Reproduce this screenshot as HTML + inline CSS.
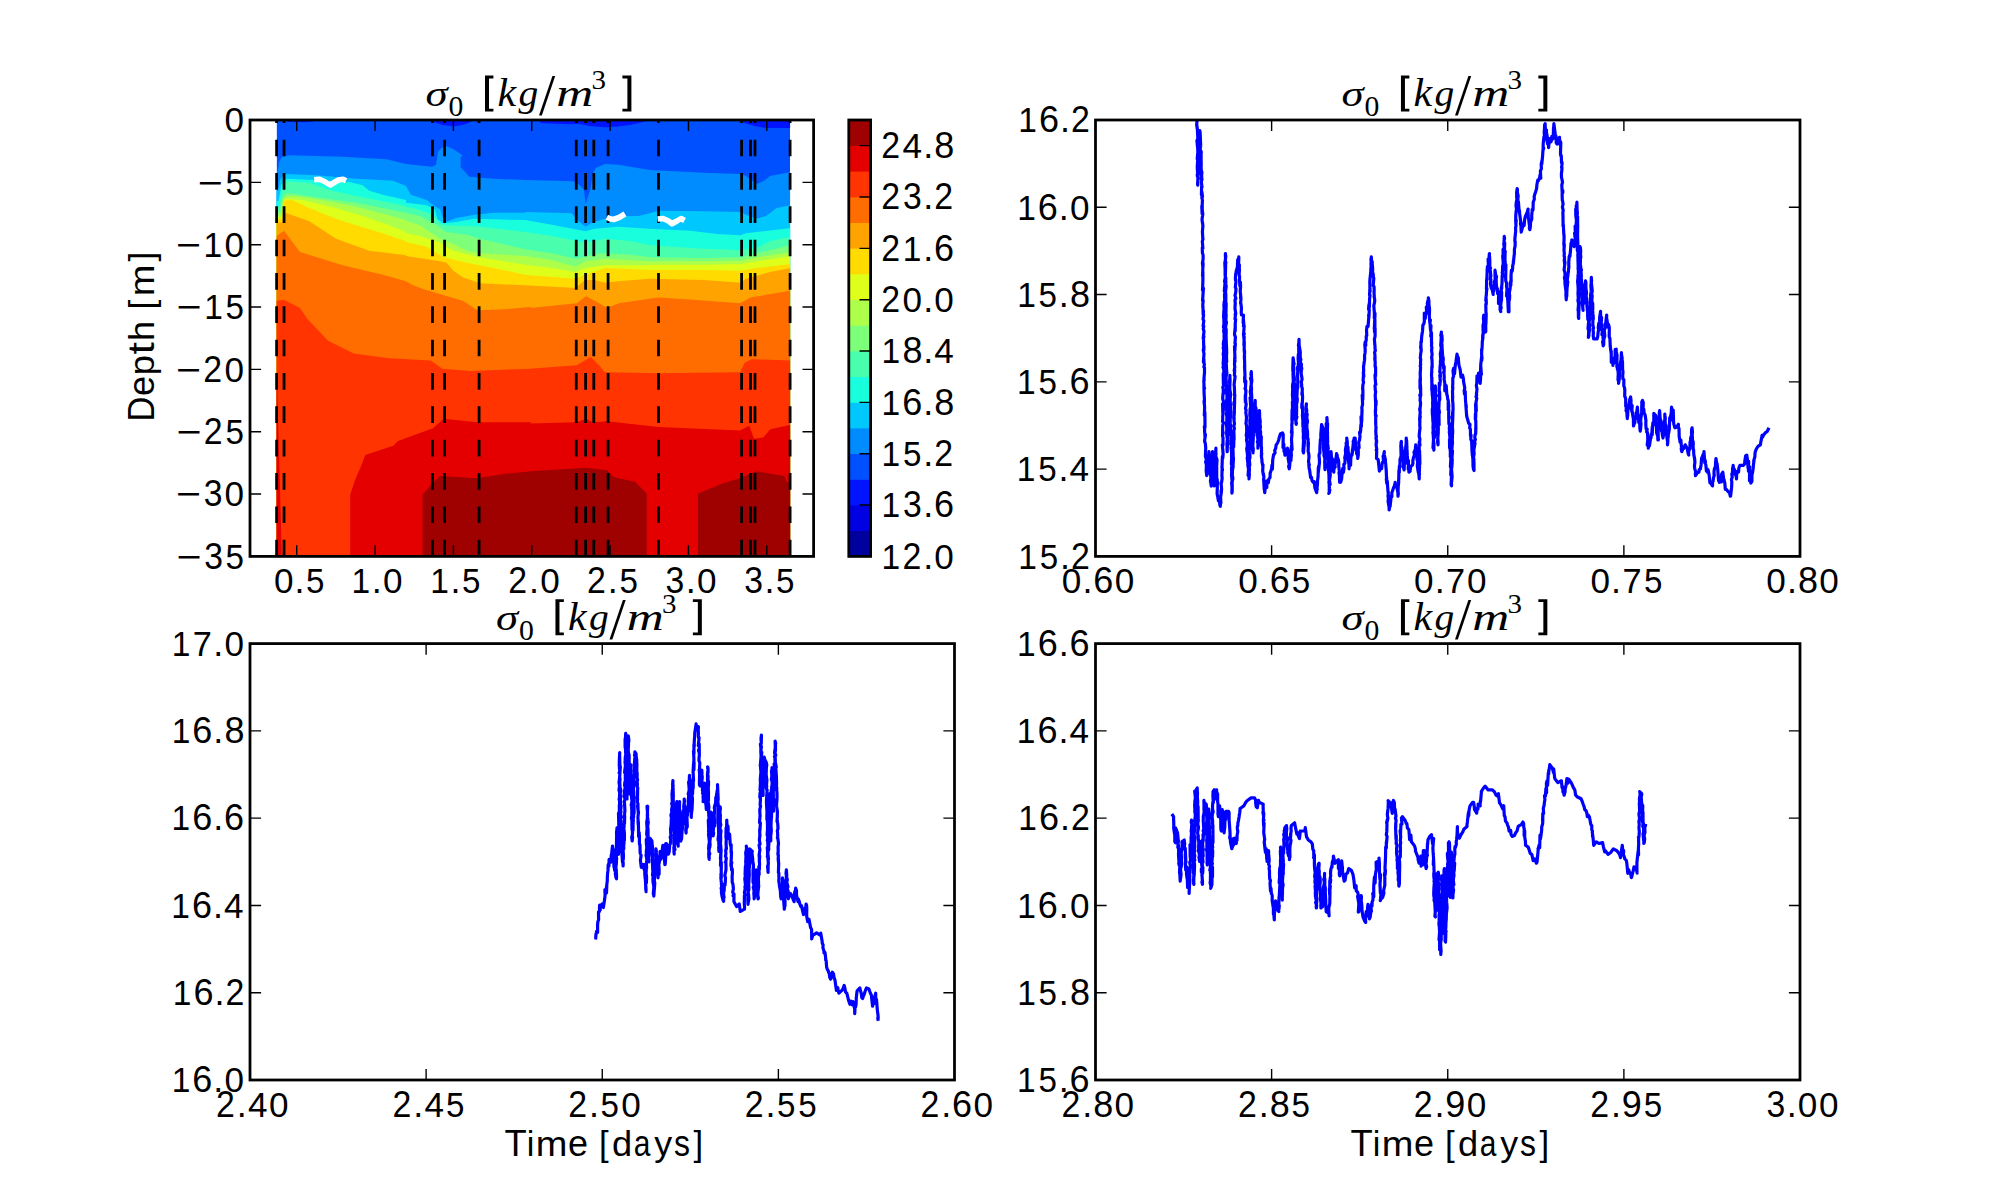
<!DOCTYPE html>
<html><head><meta charset="utf-8"><style>
html,body{margin:0;padding:0;background:#fff;width:2000px;height:1200px;overflow:hidden}
svg{display:block}
text{font-family:"Liberation Sans",sans-serif;font-size:36.0px;fill:#000}
</style></head><body>
<svg width="2000" height="1200" viewBox="0 0 2000 1200">
<rect width="2000" height="1200" fill="#fff"/>
<clipPath id="cc"><rect x="276.6" y="120.0" width="513.5" height="436.4"/></clipPath>
<g clip-path="url(#cc)">
<rect x="276.6" y="120.0" width="513.5" height="436.4" fill="#0050ff"/>
<path d="M274.6 172.7 277.3 172.7 279.3 161.3 282.0 156.7 289.3 155.3 342.7 156.7 386.7 159.3 406.0 164.0 406.0 164.0 432.0 166.7 436.0 164.7 438.0 152.0 441.3 148.0 446.0 146.0 453.3 149.3 462.7 155.3 460.7 157.3 460.7 167.3 469.3 176.7 493.3 178.7 524.9 180.0 525.0 180.0 573.0 181.3 578.3 184.0 583.7 189.3 585.7 204.0 590.3 189.3 593.0 173.3 595.7 168.0 605.0 164.0 618.3 164.7 649.9 170.0 650.0 170.0 703.3 172.7 740.7 174.0 746.0 176.0 756.7 184.0 763.3 181.3 770.0 176.0 791.3 172.0 L792.1 561.4 L274.6 561.4Z" fill="#008cff"/>
<path d="M274.6 192.0 278.0 190.7 280.0 180.0 282.7 175.7 285.3 174.0 316.0 175.3 356.0 178.7 393.3 180.7 406.0 186.0 406.0 186.0 410.7 194.7 426.7 200.0 433.3 205.3 440.0 209.3 442.7 217.3 446.0 222.0 456.0 218.0 474.7 214.7 493.3 212.7 524.9 212.7 525.0 212.0 571.7 213.3 578.3 221.3 585.7 226.7 591.7 222.7 605.0 218.7 618.3 216.0 638.3 216.0 649.9 213.3 650.0 213.3 658.0 210.7 703.3 211.3 740.7 212.0 746.0 214.7 756.7 218.7 766.0 216.0 776.7 208.0 791.3 205.3 L792.1 561.4 L274.6 561.4Z" fill="#00c8ff"/>
<path d="M274.6 202.0 278.7 200.7 281.3 185.3 284.0 180.0 288.0 178.7 312.0 180.0 349.3 182.0 362.7 185.3 369.3 190.7 382.7 194.7 406.0 200.0 406.0 202.7 426.7 205.3 434.7 209.3 437.3 218.7 442.7 223.3 456.0 222.0 474.7 218.7 493.3 219.3 524.9 220.0 525.0 220.0 551.7 224.7 585.7 231.3 594.3 228.7 618.3 226.7 649.9 228.7 650.0 228.7 690.0 230.7 716.7 234.0 740.7 235.3 746.0 233.3 756.7 232.0 791.3 228.0 L792.1 561.4 L274.6 561.4Z" fill="#19ffde"/>
<path d="M274.6 208.0 279.3 206.7 282.0 190.7 285.3 182.7 288.0 181.3 309.3 182.7 329.3 190.0 356.0 196.0 382.7 201.3 406.0 206.0 406.0 206.7 413.3 208.0 433.3 214.7 440.0 224.0 446.7 225.3 480.0 226.7 524.9 232.0 525.0 232.0 551.7 236.0 585.0 242.7 605.0 238.7 631.7 241.3 649.9 245.3 650.0 245.3 703.3 248.7 740.7 250.0 756.7 248.0 770.0 241.3 791.3 236.7 L792.1 561.4 L274.6 561.4Z" fill="#49ffad"/>
<path d="M274.6 212.0 280.0 210.7 282.7 197.3 285.3 194.0 289.3 193.3 316.0 197.3 356.0 202.7 382.7 208.0 406.0 212.7 406.0 212.7 420.0 216.0 433.3 222.7 446.7 232.0 466.7 234.7 480.0 238.7 524.9 249.3 525.0 249.3 551.7 253.3 575.7 258.7 599.7 253.3 631.7 254.7 649.9 257.3 650.0 257.3 703.3 258.0 740.7 257.3 756.7 253.3 791.3 245.3 L792.1 561.4 L274.6 561.4Z" fill="#7dff7a"/>
<path d="M274.6 214.9 280.7 214.0 283.3 198.7 286.7 196.3 296.0 196.0 329.3 201.3 356.0 206.7 389.3 215.3 406.0 220.0 406.0 220.7 420.0 225.3 440.0 238.7 453.3 244.0 466.7 250.7 480.0 253.3 524.9 256.0 525.0 256.0 551.7 260.0 575.7 266.7 585.0 261.3 605.0 258.7 649.9 261.3 650.0 261.3 703.3 261.3 740.7 260.7 756.7 257.3 791.3 252.0 L792.1 561.4 L274.6 561.4Z" fill="#adff49"/>
<path d="M274.6 217.1 281.3 216.7 284.0 199.3 289.3 198.7 302.7 200.0 336.0 208.0 362.7 216.0 389.3 225.3 406.0 232.0 406.0 233.3 420.0 236.0 440.0 242.7 453.3 250.7 480.0 257.3 524.9 264.7 525.0 264.7 551.7 268.0 575.7 272.0 585.0 268.0 605.0 265.3 649.9 265.3 650.0 264.7 703.3 264.7 740.7 264.0 756.7 261.3 791.3 256.0 L792.1 561.4 L274.6 561.4Z" fill="#deff19"/>
<path d="M274.6 218.9 282.0 218.7 284.0 200.7 292.0 200.0 309.3 208.0 336.0 218.7 356.0 225.3 382.7 233.3 406.0 241.3 406.0 242.0 426.7 246.7 444.0 257.3 466.7 262.7 493.3 268.0 524.9 274.7 525.0 274.7 575.7 278.7 585.0 274.7 605.0 268.0 649.9 270.0 650.0 270.0 703.3 270.0 740.7 270.7 756.7 268.0 791.3 264.0 L792.1 561.4 L274.6 561.4Z" fill="#ffdb00"/>
<path d="M274.6 222.0 282.0 222.7 285.3 212.7 309.3 221.3 336.0 238.7 369.3 250.7 406.0 255.3 406.0 256.0 440.0 261.3 446.7 262.7 453.3 270.7 462.7 277.3 480.0 283.3 524.9 285.3 525.0 285.3 575.7 288.0 585.0 280.0 594.3 280.0 605.0 282.7 618.3 281.3 649.9 278.7 650.0 278.7 703.3 280.0 740.7 282.7 746.0 278.7 770.0 272.0 791.3 268.0 L792.1 561.4 L274.6 561.4Z" fill="#ffa300"/>
<path d="M274.6 236.0 276.7 236.0 284.0 230.7 300.0 252.0 342.7 265.3 382.7 274.7 406.0 281.3 412.0 284.7 423.7 289.3 463.3 301.0 477.3 310.3 505.3 309.2 531.9 306.8 530.0 308.0 576.7 303.3 586.0 296.3 595.3 301.0 607.0 308.0 618.7 303.3 658.3 297.5 693.3 299.8 740.0 303.3 750.5 297.5 791.3 290.5 L792.1 561.4 L274.6 561.4Z" fill="#ff6c00"/>
<path d="M274.6 301.0 276.7 301.0 283.7 299.8 300.0 308.0 307.0 318.5 328.0 340.7 353.7 353.5 388.7 358.2 430.7 360.5 442.3 368.7 470.3 371.0 531.9 368.7 530.0 368.7 576.7 365.2 590.7 357.0 600.0 366.3 604.7 372.2 658.3 373.3 740.0 372.2 744.7 362.8 751.7 359.3 791.3 360.5 L792.1 561.4 L274.6 561.4Z" fill="#ff3400"/>
<path d="M274.6 384.0 277.2 384.0 281.8 556.4 350.2 558.4 350.2 494.7 354.8 480.7 361.8 464.3 365.3 455.0 393.3 445.7 398.0 441.0 433.0 428.2 443.5 418.8 477.3 422.3 531.9 422.3 530.0 423.5 576.7 422.3 586.0 418.8 593.0 422.3 607.0 421.2 658.3 427.0 740.0 430.5 749.3 425.8 754.0 438.7 763.3 437.5 770.3 429.3 791.3 424.7 L792.1 561.4 L274.6 561.4Z" fill="#e40000"/>
<path d="M274.6 556.4 422.5 558.4 422.5 494.7 430.7 485.3 440.0 476.0 477.3 478.3 505.3 473.7 531.9 471.3 530.0 471.3 586.0 467.8 607.0 470.2 614.0 477.2 635.0 481.8 646.7 493.5 646.7 558.4 698.0 558.4 698.0 493.5 723.7 483.0 740.0 478.3 756.3 471.3 784.3 476.0 786.7 481.8 791.3 481.8 L792.1 561.4 L274.6 561.4Z" fill="#9f0000"/>
<path d="M282 120 Q292 123 300 122 Q310 123 318 120Z M432 120 L436 123 Q446 127 456 126 Q466 125 472 121 L472 120Z M540 120 L540 123 Q560 124.5 579 124 Q595 128 611 127 Q630 126 647 121 L647 120Z M738 120 Q752 127 768 128 L792 128 L792 120Z" fill="#0014ff"/>
</g>
<path d="M276.6 556.4V120M284.05 556.4V120M432.5 556.4V120M444.6 556.4V120M479.1 556.4V120M576.25 556.4V120M585.6 556.4V120M593.8 556.4V120M608.1 556.4V120M658.5 556.4V120M741.6 556.4V120M750.5 556.4V120M755 556.4V120M790.1 556.4V120" stroke="#000" stroke-width="2.78" stroke-dasharray="16.67 16.67" fill="none"/>
<path d="M314.2 179.8 319.5 179.3 324.5 181.5 330.0 185.0 335.0 182.0 338.5 180.0 343.0 179.3 346.0 180.8" stroke="#fff" stroke-width="5.6" fill="none" stroke-linejoin="round" stroke-linecap="butt"/>
<path d="M606.8 217.3 610.0 218.8 613.5 219.5 619.0 217.5 625.0 214.0" stroke="#fff" stroke-width="5.6" fill="none" stroke-linejoin="round" stroke-linecap="butt"/>
<path d="M657.6 219.0 663.0 218.5 668.5 221.0 672.0 223.8 677.0 221.0 681.0 218.5 684.5 220.5" stroke="#fff" stroke-width="5.6" fill="none" stroke-linejoin="round" stroke-linecap="butt"/>
<path d="M296.7 556.4v-11.1M296.7 120v11.1M375.05 556.4v-11.1M375.05 120v11.1M453.4 556.4v-11.1M453.4 120v11.1M531.75 556.4v-11.1M531.75 120v11.1M610.1 556.4v-11.1M610.1 120v11.1M688.45 556.4v-11.1M688.45 120v11.1M766.8 556.4v-11.1M766.8 120v11.1" stroke="#000" stroke-width="1.39" fill="none"/>
<text transform="translate(273.88 593.2) scale(0.976 1)">0</text>
<text x="294.53" y="593.2">.</text>
<text transform="translate(306.10 593.2) scale(0.921 1)">5</text>
<text transform="translate(351.43 593.2) scale(0.932 1)">1</text>
<text x="371.80" y="593.2">.</text>
<text transform="translate(382.95 593.2) scale(0.976 1)">0</text>
<text transform="translate(430.13 593.2) scale(0.932 1)">1</text>
<text x="450.50" y="593.2">.</text>
<text transform="translate(462.07 593.2) scale(0.921 1)">5</text>
<text transform="translate(508.37 593.2) scale(0.941 1)">2</text>
<text x="529.11" y="593.2">.</text>
<text transform="translate(540.26 593.2) scale(0.976 1)">0</text>
<text transform="translate(587.07 593.2) scale(0.941 1)">2</text>
<text x="607.81" y="593.2">.</text>
<text transform="translate(619.38 593.2) scale(0.921 1)">5</text>
<text transform="translate(665.54 593.2) scale(0.937 1)">3</text>
<text x="685.76" y="593.2">.</text>
<text transform="translate(696.91 593.2) scale(0.976 1)">0</text>
<text transform="translate(744.24 593.2) scale(0.937 1)">3</text>
<text x="764.46" y="593.2">.</text>
<text transform="translate(776.03 593.2) scale(0.921 1)">5</text>
<path d="M250 120h11.1M813.6 120h-11.1M250 182.34h11.1M813.6 182.34h-11.1M250 244.69h11.1M813.6 244.69h-11.1M250 307.03h11.1M813.6 307.03h-11.1M250 369.37h11.1M813.6 369.37h-11.1M250 431.71h11.1M813.6 431.71h-11.1M250 494.06h11.1M813.6 494.06h-11.1M250 556.4h11.1M813.6 556.4h-11.1" stroke="#000" stroke-width="1.39" fill="none"/>
<text transform="translate(224.43 132.3) scale(0.976 1)">0</text>
<text transform="translate(197.79 194.64) scale(1.193 1)">−</text>
<text transform="translate(225.55 194.64) scale(0.921 1)">5</text>
<text transform="translate(175.88 256.99) scale(1.193 1)">−</text>
<text transform="translate(203.50 256.99) scale(0.932 1)">1</text>
<text transform="translate(224.43 256.99) scale(0.976 1)">0</text>
<text transform="translate(176.58 319.33) scale(1.193 1)">−</text>
<text transform="translate(204.20 319.33) scale(0.932 1)">1</text>
<text transform="translate(225.55 319.33) scale(0.921 1)">5</text>
<text transform="translate(175.88 381.67) scale(1.193 1)">−</text>
<text transform="translate(203.14 381.67) scale(0.941 1)">2</text>
<text transform="translate(224.43 381.67) scale(0.976 1)">0</text>
<text transform="translate(176.58 444.01) scale(1.193 1)">−</text>
<text transform="translate(203.84 444.01) scale(0.941 1)">2</text>
<text transform="translate(225.55 444.01) scale(0.921 1)">5</text>
<text transform="translate(175.88 506.36) scale(1.193 1)">−</text>
<text transform="translate(203.65 506.36) scale(0.937 1)">3</text>
<text transform="translate(224.43 506.36) scale(0.976 1)">0</text>
<text transform="translate(176.58 568.7) scale(1.193 1)">−</text>
<text transform="translate(204.35 568.7) scale(0.937 1)">3</text>
<text transform="translate(225.55 568.7) scale(0.921 1)">5</text>
<rect x="250" y="120" width="563.6" height="436.4" fill="none" stroke="#000" stroke-width="2.78"/>
<rect x="848.8" y="530.43" width="21.8" height="26.27" fill="#00009f"/>
<rect x="848.8" y="504.76" width="21.8" height="26.27" fill="#0000e3"/>
<rect x="848.8" y="479.09" width="21.8" height="26.27" fill="#0014ff"/>
<rect x="848.8" y="453.42" width="21.8" height="26.27" fill="#0050ff"/>
<rect x="848.8" y="427.75" width="21.8" height="26.27" fill="#008cff"/>
<rect x="848.8" y="402.08" width="21.8" height="26.27" fill="#00c8ff"/>
<rect x="848.8" y="376.41" width="21.8" height="26.27" fill="#19ffde"/>
<rect x="848.8" y="350.74" width="21.8" height="26.27" fill="#49ffad"/>
<rect x="848.8" y="325.06" width="21.8" height="26.27" fill="#7dff7a"/>
<rect x="848.8" y="299.39" width="21.8" height="26.27" fill="#adff49"/>
<rect x="848.8" y="273.72" width="21.8" height="26.27" fill="#deff19"/>
<rect x="848.8" y="248.05" width="21.8" height="26.27" fill="#ffdb00"/>
<rect x="848.8" y="222.38" width="21.8" height="26.27" fill="#ffa300"/>
<rect x="848.8" y="196.71" width="21.8" height="26.27" fill="#ff6c00"/>
<rect x="848.8" y="171.04" width="21.8" height="26.27" fill="#ff3400"/>
<rect x="848.8" y="145.37" width="21.8" height="26.27" fill="#e40000"/>
<rect x="848.8" y="119.7" width="21.8" height="26.27" fill="#9f0000"/>
<path d="M870.6 505.06h-11.1M870.6 453.72h-11.1M870.6 402.38h-11.1M870.6 351.04h-11.1M870.6 299.69h-11.1M870.6 248.35h-11.1M870.6 197.01h-11.1M870.6 145.67h-11.1" stroke="#000" stroke-width="1.39" fill="none"/>
<text transform="translate(881.61 568.7) scale(0.932 1)">1</text>
<text transform="translate(902.45 568.7) scale(0.941 1)">2</text>
<text x="923.19" y="568.7">.</text>
<text transform="translate(934.34 568.7) scale(0.976 1)">0</text>
<text transform="translate(881.61 517.36) scale(0.932 1)">1</text>
<text transform="translate(902.96 517.36) scale(0.937 1)">3</text>
<text x="923.19" y="517.36">.</text>
<text x="933.99" y="517.36">6</text>
<text transform="translate(881.61 466.02) scale(0.932 1)">1</text>
<text transform="translate(902.95 466.02) scale(0.921 1)">5</text>
<text x="923.19" y="466.02">.</text>
<text transform="translate(934.25 466.02) scale(0.941 1)">2</text>
<text transform="translate(881.61 414.68) scale(0.932 1)">1</text>
<text x="902.19" y="414.68">6</text>
<text x="923.19" y="414.68">.</text>
<text x="934.23" y="414.68">8</text>
<text transform="translate(881.61 363.34) scale(0.932 1)">1</text>
<text x="902.43" y="363.34">8</text>
<text x="923.19" y="363.34">.</text>
<text transform="translate(934.33 363.34) scale(0.976 1)">4</text>
<text transform="translate(881.24 311.99) scale(0.941 1)">2</text>
<text transform="translate(902.53 311.99) scale(0.976 1)">0</text>
<text x="923.19" y="311.99">.</text>
<text transform="translate(934.34 311.99) scale(0.976 1)">0</text>
<text transform="translate(881.24 260.65) scale(0.941 1)">2</text>
<text transform="translate(902.81 260.65) scale(0.932 1)">1</text>
<text x="923.19" y="260.65">.</text>
<text x="933.99" y="260.65">6</text>
<text transform="translate(881.24 209.31) scale(0.941 1)">2</text>
<text transform="translate(902.96 209.31) scale(0.937 1)">3</text>
<text x="923.19" y="209.31">.</text>
<text transform="translate(934.25 209.31) scale(0.941 1)">2</text>
<text transform="translate(881.24 157.97) scale(0.941 1)">2</text>
<text transform="translate(902.53 157.97) scale(0.976 1)">4</text>
<text x="923.19" y="157.97">.</text>
<text x="934.23" y="157.97">8</text>
<rect x="848.8" y="120" width="21.8" height="436.4" fill="none" stroke="#000" stroke-width="2.78"/>
<path d="M1271.62 556.4v-11.1M1271.62 120v11.1M1447.75 556.4v-11.1M1447.75 120v11.1M1623.88 556.4v-11.1M1623.88 120v11.1" stroke="#000" stroke-width="1.39" fill="none"/>
<text transform="translate(1061.72 593.2) scale(0.976 1)">0</text>
<text x="1082.38" y="593.2">.</text>
<text x="1093.18" y="593.2">6</text>
<text transform="translate(1114.73 593.2) scale(0.976 1)">0</text>
<text transform="translate(1238.20 593.2) scale(0.976 1)">0</text>
<text x="1258.85" y="593.2">.</text>
<text x="1269.66" y="593.2">6</text>
<text transform="translate(1291.63 593.2) scale(0.921 1)">5</text>
<text transform="translate(1413.97 593.2) scale(0.976 1)">0</text>
<text x="1434.63" y="593.2">.</text>
<text transform="translate(1445.92 593.2) scale(0.955 1)">7</text>
<text transform="translate(1466.98 593.2) scale(0.976 1)">0</text>
<text transform="translate(1590.45 593.2) scale(0.976 1)">0</text>
<text x="1611.10" y="593.2">.</text>
<text transform="translate(1622.40 593.2) scale(0.955 1)">7</text>
<text transform="translate(1643.88 593.2) scale(0.921 1)">5</text>
<text transform="translate(1766.22 593.2) scale(0.976 1)">0</text>
<text x="1786.88" y="593.2">.</text>
<text x="1797.92" y="593.2">8</text>
<text transform="translate(1819.23 593.2) scale(0.976 1)">0</text>
<path d="M1095.5 469.12h11.1M1800 469.12h-11.1M1095.5 381.84h11.1M1800 381.84h-11.1M1095.5 294.56h11.1M1800 294.56h-11.1M1095.5 207.28h11.1M1800 207.28h-11.1" stroke="#000" stroke-width="1.39" fill="none"/>
<text transform="translate(1018.32 568.7) scale(0.932 1)">1</text>
<text transform="translate(1039.67 568.7) scale(0.921 1)">5</text>
<text x="1059.90" y="568.7">.</text>
<text transform="translate(1070.97 568.7) scale(0.941 1)">2</text>
<text transform="translate(1016.86 481.42) scale(0.932 1)">1</text>
<text transform="translate(1038.20 481.42) scale(0.921 1)">5</text>
<text x="1058.44" y="481.42">.</text>
<text transform="translate(1069.59 481.42) scale(0.976 1)">4</text>
<text transform="translate(1017.09 394.14) scale(0.932 1)">1</text>
<text transform="translate(1038.43 394.14) scale(0.921 1)">5</text>
<text x="1058.67" y="394.14">.</text>
<text x="1069.47" y="394.14">6</text>
<text transform="translate(1017.27 306.86) scale(0.932 1)">1</text>
<text transform="translate(1038.61 306.86) scale(0.921 1)">5</text>
<text x="1058.85" y="306.86">.</text>
<text x="1069.89" y="306.86">8</text>
<text transform="translate(1017.20 219.58) scale(0.932 1)">1</text>
<text x="1037.78" y="219.58">6</text>
<text x="1058.78" y="219.58">.</text>
<text transform="translate(1069.93 219.58) scale(0.976 1)">0</text>
<text transform="translate(1018.32 132.3) scale(0.932 1)">1</text>
<text x="1038.91" y="132.3">6</text>
<text x="1059.90" y="132.3">.</text>
<text transform="translate(1070.97 132.3) scale(0.941 1)">2</text>
<path d="M426.12 1080v-11.1M426.12 643.6v11.1M602.25 1080v-11.1M602.25 643.6v11.1M778.38 1080v-11.1M778.38 643.6v11.1" stroke="#000" stroke-width="1.39" fill="none"/>
<text transform="translate(216.01 1116.8) scale(0.941 1)">2</text>
<text x="236.76" y="1116.8">.</text>
<text transform="translate(247.90 1116.8) scale(0.976 1)">4</text>
<text transform="translate(269.11 1116.8) scale(0.976 1)">0</text>
<text transform="translate(392.49 1116.8) scale(0.941 1)">2</text>
<text x="413.23" y="1116.8">.</text>
<text transform="translate(424.38 1116.8) scale(0.976 1)">4</text>
<text transform="translate(446.01 1116.8) scale(0.921 1)">5</text>
<text transform="translate(568.26 1116.8) scale(0.941 1)">2</text>
<text x="589.01" y="1116.8">.</text>
<text transform="translate(600.57 1116.8) scale(0.921 1)">5</text>
<text transform="translate(621.36 1116.8) scale(0.976 1)">0</text>
<text transform="translate(744.74 1116.8) scale(0.941 1)">2</text>
<text x="765.48" y="1116.8">.</text>
<text transform="translate(777.05 1116.8) scale(0.921 1)">5</text>
<text transform="translate(798.26 1116.8) scale(0.921 1)">5</text>
<text transform="translate(920.51 1116.8) scale(0.941 1)">2</text>
<text x="941.26" y="1116.8">.</text>
<text x="952.06" y="1116.8">6</text>
<text transform="translate(973.61 1116.8) scale(0.976 1)">0</text>
<path d="M250 992.72h11.1M954.5 992.72h-11.1M250 905.44h11.1M954.5 905.44h-11.1M250 818.16h11.1M954.5 818.16h-11.1M250 730.88h11.1M954.5 730.88h-11.1" stroke="#000" stroke-width="1.39" fill="none"/>
<text transform="translate(171.70 1092.3) scale(0.932 1)">1</text>
<text x="192.28" y="1092.3">6</text>
<text x="213.28" y="1092.3">.</text>
<text transform="translate(224.43 1092.3) scale(0.976 1)">0</text>
<text transform="translate(172.82 1005.02) scale(0.932 1)">1</text>
<text x="193.41" y="1005.02">6</text>
<text x="214.40" y="1005.02">.</text>
<text transform="translate(225.47 1005.02) scale(0.941 1)">2</text>
<text transform="translate(171.36 917.74) scale(0.932 1)">1</text>
<text x="191.94" y="917.74">6</text>
<text x="212.94" y="917.74">.</text>
<text transform="translate(224.09 917.74) scale(0.976 1)">4</text>
<text transform="translate(171.59 830.46) scale(0.932 1)">1</text>
<text x="192.17" y="830.46">6</text>
<text x="213.17" y="830.46">.</text>
<text x="223.97" y="830.46">6</text>
<text transform="translate(171.77 743.18) scale(0.932 1)">1</text>
<text x="192.35" y="743.18">6</text>
<text x="213.35" y="743.18">.</text>
<text x="224.39" y="743.18">8</text>
<text transform="translate(171.70 655.9) scale(0.932 1)">1</text>
<text transform="translate(192.77 655.9) scale(0.955 1)">7</text>
<text x="213.28" y="655.9">.</text>
<text transform="translate(224.43 655.9) scale(0.976 1)">0</text>
<path d="M1271.62 1080v-11.1M1271.62 643.6v11.1M1447.75 1080v-11.1M1447.75 643.6v11.1M1623.88 1080v-11.1M1623.88 643.6v11.1" stroke="#000" stroke-width="1.39" fill="none"/>
<text transform="translate(1061.51 1116.8) scale(0.941 1)">2</text>
<text x="1082.26" y="1116.8">.</text>
<text x="1093.30" y="1116.8">8</text>
<text transform="translate(1114.61 1116.8) scale(0.976 1)">0</text>
<text transform="translate(1237.99 1116.8) scale(0.941 1)">2</text>
<text x="1258.73" y="1116.8">.</text>
<text x="1269.77" y="1116.8">8</text>
<text transform="translate(1291.51 1116.8) scale(0.921 1)">5</text>
<text transform="translate(1413.76 1116.8) scale(0.941 1)">2</text>
<text x="1434.51" y="1116.8">.</text>
<text x="1445.23" y="1116.8">9</text>
<text transform="translate(1466.86 1116.8) scale(0.976 1)">0</text>
<text transform="translate(1590.24 1116.8) scale(0.941 1)">2</text>
<text x="1610.98" y="1116.8">.</text>
<text x="1621.70" y="1116.8">9</text>
<text transform="translate(1643.76 1116.8) scale(0.921 1)">5</text>
<text transform="translate(1766.48 1116.8) scale(0.937 1)">3</text>
<text x="1786.71" y="1116.8">.</text>
<text transform="translate(1797.86 1116.8) scale(0.976 1)">0</text>
<text transform="translate(1819.06 1116.8) scale(0.976 1)">0</text>
<path d="M1095.5 992.72h11.1M1800 992.72h-11.1M1095.5 905.44h11.1M1800 905.44h-11.1M1095.5 818.16h11.1M1800 818.16h-11.1M1095.5 730.88h11.1M1800 730.88h-11.1" stroke="#000" stroke-width="1.39" fill="none"/>
<text transform="translate(1017.09 1092.3) scale(0.932 1)">1</text>
<text transform="translate(1038.43 1092.3) scale(0.921 1)">5</text>
<text x="1058.67" y="1092.3">.</text>
<text x="1069.47" y="1092.3">6</text>
<text transform="translate(1017.27 1005.02) scale(0.932 1)">1</text>
<text transform="translate(1038.61 1005.02) scale(0.921 1)">5</text>
<text x="1058.85" y="1005.02">.</text>
<text x="1069.89" y="1005.02">8</text>
<text transform="translate(1017.20 917.74) scale(0.932 1)">1</text>
<text x="1037.78" y="917.74">6</text>
<text x="1058.78" y="917.74">.</text>
<text transform="translate(1069.93 917.74) scale(0.976 1)">0</text>
<text transform="translate(1018.32 830.46) scale(0.932 1)">1</text>
<text x="1038.91" y="830.46">6</text>
<text x="1059.90" y="830.46">.</text>
<text transform="translate(1070.97 830.46) scale(0.941 1)">2</text>
<text transform="translate(1016.86 743.18) scale(0.932 1)">1</text>
<text x="1037.44" y="743.18">6</text>
<text x="1058.44" y="743.18">.</text>
<text transform="translate(1069.59 743.18) scale(0.976 1)">4</text>
<text transform="translate(1017.09 655.9) scale(0.932 1)">1</text>
<text x="1037.67" y="655.9">6</text>
<text x="1058.67" y="655.9">.</text>
<text x="1069.47" y="655.9">6</text>
<clipPath id="ctr"><rect x="1095.5" y="120" width="704.5" height="436.4"/></clipPath>
<path clip-path="url(#ctr)" d="M1196.7 110.0 1196.7 113.7 1196.8 114.4 1196.8 118.9 1197.1 120.2 1196.7 124.2 1197.5 130.1 1196.9 126.5 1196.7 124.7 1197.3 129.4 1197.3 127.9 1197.8 137.6 1197.3 145.6 1197.4 140.8 1196.9 140.4 1197.7 148.6 1197.9 153.9 1197.9 151.6 1197.2 158.9 1197.8 156.6 1197.5 157.0 1197.6 159.7 1197.5 164.0 1197.3 165.1 1197.3 168.2 1197.7 174.8 1197.2 174.8 1197.2 174.6 1197.5 176.7 1198.1 174.9 1197.6 184.1 1197.8 185.2 1197.7 181.7 1198.1 178.4 1197.8 172.7 1198.3 174.9 1198.7 173.6 1198.0 171.9 1198.9 171.3 1198.2 165.4 1199.1 162.5 1198.3 158.6 1199.3 156.4 1199.3 161.4 1199.1 152.5 1198.8 151.4 1199.0 147.4 1199.4 144.7 1199.3 147.1 1199.7 140.8 1199.4 139.7 1199.6 133.9 1199.2 133.9 1199.8 130.5 1199.7 132.5 1199.9 132.6 1200.1 131.8 1200.7 146.0 1200.0 138.3 1200.6 146.8 1200.2 147.1 1200.4 154.3 1201.3 152.4 1201.1 151.4 1201.1 160.1 1201.2 161.2 1201.2 163.5 1201.1 171.7 1201.2 170.0 1201.9 172.2 1201.3 179.2 1201.7 176.1 1201.7 179.2 1202.0 179.4 1201.3 181.9 1202.0 187.0 1201.6 186.7 1201.4 194.8 1201.9 191.9 1202.5 196.6 1201.7 196.8 1202.5 200.7 1202.4 200.4 1202.2 205.7 1202.3 206.4 1202.1 213.8 1201.8 206.1 1202.8 214.1 1202.1 218.8 1202.1 220.2 1202.7 224.5 1202.6 222.8 1202.9 225.8 1202.9 225.8 1202.4 231.6 1202.6 234.9 1202.8 238.6 1203.0 238.8 1202.3 241.4 1202.5 243.5 1202.9 248.5 1202.3 247.8 1202.4 253.0 1202.8 254.0 1203.1 255.4 1203.1 259.2 1202.4 263.0 1202.9 267.0 1203.1 265.5 1203.0 262.5 1202.6 275.8 1202.5 275.4 1202.9 271.8 1202.9 277.9 1202.9 280.0 1202.7 285.7 1202.5 290.2 1203.0 288.3 1203.5 288.8 1203.4 288.2 1202.6 300.6 1203.2 300.7 1202.8 304.2 1202.8 307.6 1202.9 305.8 1202.9 306.0 1203.2 315.0 1203.5 311.0 1203.2 315.0 1203.6 314.9 1203.0 319.1 1203.8 320.9 1203.1 325.9 1203.8 326.4 1203.2 328.7 1204.0 331.3 1203.2 338.5 1203.9 336.7 1203.5 338.1 1203.6 342.3 1203.8 350.8 1204.0 346.2 1203.3 350.1 1203.4 350.7 1204.0 353.7 1203.4 362.0 1203.9 359.4 1204.0 363.0 1204.4 364.2 1203.9 367.2 1204.5 367.8 1204.5 373.0 1204.4 373.7 1204.0 378.2 1204.2 380.3 1203.8 380.5 1204.1 388.0 1204.0 386.6 1204.6 388.4 1203.9 386.3 1204.1 393.0 1204.3 397.1 1204.4 398.6 1204.4 403.0 1204.0 401.4 1204.6 406.5 1204.6 408.6 1204.3 415.4 1204.8 414.0 1204.4 414.2 1204.9 412.3 1205.0 427.3 1205.0 424.9 1204.3 427.3 1204.6 427.6 1204.6 431.2 1204.7 432.6 1205.1 437.5 1205.4 434.4 1204.6 441.2 1205.4 443.8 1205.7 447.3 1205.7 449.6 1205.6 449.7 1205.4 456.5 1205.7 456.7 1206.3 459.8 1205.6 462.1 1205.6 461.8 1206.4 464.7 1206.5 462.6 1206.2 471.1 1206.4 472.8 1206.7 475.6 1207.3 474.4 1207.4 470.8 1207.6 467.1 1207.2 465.5 1208.3 458.2 1208.2 466.9 1208.6 459.6 1208.3 455.5 1208.8 454.4 1209.0 451.7 1209.1 454.3 1209.8 455.4 1209.8 458.7 1209.4 457.1 1210.1 462.9 1209.5 468.3 1209.6 465.5 1210.7 468.1 1210.3 471.3 1210.9 478.3 1210.4 481.3 1210.8 482.4 1211.2 486.1 1210.8 475.5 1211.4 474.9 1211.7 473.3 1211.9 468.5 1211.8 470.0 1211.3 464.1 1212.2 463.3 1212.0 457.8 1212.6 456.7 1212.4 453.3 1212.5 451.7 1212.8 453.1 1213.1 457.4 1212.8 460.7 1212.6 461.7 1212.9 464.5 1212.8 466.4 1213.4 472.5 1213.1 471.7 1213.6 479.0 1214.1 476.3 1213.4 482.4 1214.2 485.9 1213.7 481.7 1214.2 485.8 1214.0 483.3 1214.0 480.2 1214.7 476.9 1215.0 474.7 1214.7 473.2 1214.9 471.4 1214.9 463.8 1215.5 466.8 1215.0 463.8 1215.8 459.7 1215.6 459.5 1215.7 454.1 1216.1 454.0 1215.6 454.9 1215.9 448.2 1215.8 458.0 1216.2 457.5 1216.2 460.8 1215.9 459.2 1216.7 464.3 1216.1 457.1 1217.0 459.8 1216.5 469.0 1216.7 469.9 1216.7 467.7 1216.7 477.6 1216.5 477.5 1217.5 482.5 1217.6 484.1 1217.1 479.0 1217.3 484.4 1217.3 487.9 1217.1 493.6 1217.6 496.1 1218.4 500.8 1219.3 500.7 1220.0 505.4 1220.3 506.3 1220.6 502.5 1220.9 502.9 1220.6 497.3 1220.8 495.8 1221.0 494.6 1221.1 490.3 1221.3 493.0 1221.6 489.2 1221.1 482.6 1221.6 482.3 1222.1 478.8 1222.1 476.9 1221.9 476.7 1222.1 467.4 1222.5 470.2 1221.9 466.7 1222.0 467.5 1222.4 456.3 1222.7 458.5 1223.1 454.5 1223.0 452.7 1222.8 449.9 1222.9 450.3 1222.9 450.9 1222.3 444.8 1223.0 445.3 1223.0 437.6 1222.5 436.1 1223.2 432.4 1222.6 435.3 1222.6 436.6 1222.7 425.7 1223.5 422.8 1222.5 421.4 1222.7 419.5 1222.7 416.4 1223.4 409.1 1222.8 413.0 1222.6 403.7 1223.4 408.1 1223.6 402.4 1223.3 400.8 1222.7 398.7 1223.0 393.6 1223.3 393.6 1223.2 394.4 1223.3 389.8 1222.8 387.1 1223.6 385.8 1223.3 379.0 1223.4 384.1 1223.2 373.5 1223.8 377.9 1223.8 368.0 1223.7 369.6 1223.0 367.1 1223.7 364.6 1223.1 364.1 1223.2 362.5 1224.0 351.9 1223.8 357.9 1223.2 353.8 1223.8 350.9 1223.2 347.7 1223.9 348.4 1223.3 344.2 1223.7 340.9 1223.8 344.8 1224.1 343.3 1224.1 331.4 1223.7 332.1 1224.0 324.1 1223.4 326.8 1224.3 325.4 1223.9 322.5 1223.9 319.2 1223.6 316.5 1223.9 310.1 1224.5 310.8 1224.4 309.2 1224.2 312.3 1223.9 305.1 1224.3 301.1 1224.9 301.2 1224.6 298.2 1224.5 294.0 1224.6 295.9 1225.0 289.5 1224.3 291.2 1225.2 280.6 1224.5 281.5 1224.7 280.3 1225.4 277.2 1225.3 276.9 1225.1 274.7 1225.1 270.2 1225.1 271.5 1225.1 269.4 1224.8 263.0 1225.4 259.9 1225.3 259.7 1225.8 256.6 1225.4 253.5 1225.4 256.4 1225.6 258.2 1225.3 261.2 1225.9 262.3 1225.6 264.2 1225.6 267.4 1225.4 274.8 1225.5 272.7 1225.3 276.2 1225.9 278.5 1225.7 278.6 1225.9 283.7 1225.3 280.0 1226.1 287.5 1226.2 285.9 1225.5 292.1 1225.8 295.1 1225.6 296.1 1225.8 293.7 1225.8 307.8 1226.2 303.6 1226.1 306.0 1226.1 306.1 1226.0 311.8 1225.9 314.5 1226.2 315.6 1226.1 314.4 1225.9 320.6 1226.5 322.2 1225.6 326.9 1226.2 333.8 1226.0 329.6 1225.6 332.7 1226.2 329.3 1226.1 337.0 1226.3 341.5 1226.2 341.4 1226.6 348.9 1226.7 353.8 1226.1 354.3 1225.9 352.2 1226.5 354.2 1226.6 362.1 1226.8 360.9 1226.0 359.9 1226.4 365.8 1226.4 366.6 1226.7 371.6 1226.5 371.4 1227.0 372.9 1226.4 375.1 1226.0 377.9 1226.3 382.0 1226.2 384.2 1226.7 385.4 1226.5 387.9 1226.2 391.5 1226.2 391.9 1226.9 395.0 1227.0 398.1 1226.5 401.4 1226.4 404.9 1227.1 401.1 1226.6 407.8 1226.9 416.8 1226.3 413.6 1227.1 414.6 1226.7 421.8 1227.1 421.1 1227.0 422.1 1226.5 422.1 1226.6 426.9 1227.1 424.3 1226.9 427.1 1226.6 433.6 1227.2 438.2 1227.5 439.9 1226.9 443.4 1227.2 450.4 1227.0 449.6 1227.0 445.9 1227.2 451.7 1227.2 451.4 1227.3 447.0 1227.9 443.9 1227.1 440.7 1227.5 446.1 1227.7 438.5 1227.5 431.1 1228.1 433.8 1228.1 430.3 1227.6 427.9 1228.4 425.0 1228.0 422.0 1228.3 419.6 1228.3 419.3 1228.3 413.9 1229.0 411.1 1228.2 409.1 1228.5 411.9 1228.8 404.1 1229.0 404.8 1229.1 399.8 1229.4 396.9 1229.2 397.0 1229.7 395.2 1229.0 387.5 1229.5 386.9 1229.3 387.5 1229.7 390.8 1229.9 375.4 1229.9 382.6 1229.9 376.5 1229.5 383.1 1229.7 379.9 1230.1 378.9 1229.8 387.5 1229.9 390.1 1230.4 392.3 1230.5 394.9 1230.0 401.5 1230.1 397.7 1230.2 400.7 1230.4 404.5 1230.6 405.0 1230.6 408.5 1230.6 413.0 1231.0 411.7 1230.6 417.0 1230.2 417.9 1230.2 426.1 1230.5 424.8 1230.4 426.1 1230.6 426.0 1230.6 435.1 1231.3 432.0 1231.3 433.0 1231.1 438.7 1231.4 440.9 1231.0 440.7 1231.0 442.7 1231.5 446.9 1231.0 447.5 1231.6 452.4 1231.6 453.6 1231.5 455.3 1231.7 458.8 1231.8 455.8 1231.3 464.0 1231.9 464.8 1231.5 469.2 1231.9 473.1 1231.7 471.7 1231.5 474.8 1232.2 482.6 1232.0 481.9 1231.6 482.8 1231.9 485.9 1232.2 484.1 1232.2 491.7 1231.9 492.7 1232.2 488.5 1231.9 493.1 1232.0 484.3 1232.7 476.8 1232.0 482.1 1232.9 478.5 1232.3 475.1 1232.4 471.9 1232.6 469.9 1232.7 466.9 1233.1 467.4 1233.1 464.8 1233.0 466.2 1233.5 457.5 1233.0 460.0 1233.2 454.4 1233.0 450.7 1233.0 446.3 1233.7 446.7 1233.7 445.4 1233.9 438.6 1234.1 439.5 1234.0 435.8 1234.0 434.6 1233.8 430.9 1234.4 428.5 1233.8 425.7 1234.5 423.9 1234.0 420.6 1234.2 418.4 1233.8 417.3 1233.8 419.0 1234.4 412.3 1234.3 410.4 1234.6 402.6 1233.9 404.4 1234.0 402.3 1234.6 401.8 1234.6 399.0 1234.8 394.8 1234.2 394.8 1234.6 392.7 1234.4 387.6 1234.4 387.1 1234.1 384.9 1234.6 380.1 1234.8 379.3 1235.1 376.2 1234.4 375.3 1234.7 369.9 1234.2 370.7 1234.8 367.1 1234.5 364.7 1234.7 357.9 1235.0 361.6 1234.8 355.2 1235.0 359.2 1234.5 346.3 1234.9 350.8 1235.0 347.7 1235.4 343.9 1235.0 343.5 1235.0 342.8 1235.4 337.1 1234.5 334.4 1235.3 326.4 1235.2 331.0 1235.2 328.8 1235.2 324.8 1235.3 322.6 1235.7 319.5 1235.0 318.9 1235.5 314.4 1235.1 314.3 1235.8 313.6 1235.0 308.7 1235.1 305.1 1235.3 304.2 1235.0 300.2 1235.1 299.4 1235.9 298.7 1235.0 295.4 1235.7 292.5 1236.0 288.5 1235.3 287.4 1235.9 282.1 1235.8 279.5 1235.5 280.1 1235.4 277.9 1235.7 274.0 1235.9 273.3 1236.3 270.8 1237.4 267.1 1237.7 259.7 1238.2 259.2 1238.4 260.5 1238.8 256.9 1238.8 259.7 1238.6 262.6 1239.2 265.9 1239.4 265.0 1239.3 267.6 1239.4 270.4 1239.1 274.4 1239.6 277.1 1239.5 279.3 1239.9 286.2 1240.4 282.1 1240.6 287.3 1240.5 287.8 1240.2 291.0 1240.9 297.7 1240.6 296.6 1240.6 298.3 1241.0 298.8 1240.6 303.2 1240.9 303.7 1241.4 307.8 1241.4 308.6 1241.2 312.4 1241.5 315.0 1243.5 315.0 1243.1 322.8 1243.3 318.8 1243.8 323.4 1243.4 325.9 1244.2 325.7 1243.5 334.9 1243.5 333.4 1244.3 333.7 1243.6 335.0 1244.1 340.1 1244.2 336.5 1243.9 345.3 1244.3 341.4 1244.2 350.0 1244.6 354.7 1244.5 349.8 1244.5 357.4 1244.4 359.1 1244.4 355.1 1244.6 361.7 1244.7 366.0 1244.7 369.5 1244.5 365.9 1244.9 373.1 1245.0 380.7 1244.6 377.0 1244.8 382.1 1245.6 383.0 1245.5 384.7 1245.8 381.1 1245.4 389.5 1245.0 388.4 1245.9 390.5 1245.3 401.9 1245.3 395.1 1245.8 402.6 1246.2 404.2 1245.5 408.6 1246.1 410.1 1245.8 412.6 1246.1 414.5 1246.5 417.2 1246.1 423.7 1245.9 423.4 1246.6 425.8 1246.7 431.6 1246.2 435.7 1246.7 433.1 1246.8 431.2 1246.7 441.3 1246.5 439.4 1246.9 441.3 1247.2 443.5 1247.2 447.0 1246.7 448.3 1247.0 451.7 1247.0 449.1 1247.6 457.0 1247.2 457.8 1248.2 465.8 1248.0 465.5 1247.8 464.9 1248.5 469.0 1248.1 475.5 1248.8 475.7 1249.1 476.1 1249.0 479.0 1249.3 474.8 1249.5 474.5 1249.0 476.0 1249.5 468.5 1248.8 468.7 1249.8 464.8 1249.5 461.4 1249.0 456.8 1249.9 458.2 1249.9 455.1 1249.6 453.3 1249.2 453.2 1249.2 449.6 1250.2 446.9 1249.9 444.5 1250.3 437.1 1249.8 438.1 1249.8 434.0 1249.5 434.2 1249.6 429.3 1249.8 428.8 1249.8 427.2 1250.0 425.3 1249.8 419.6 1250.5 420.2 1249.8 415.0 1250.2 408.1 1250.1 412.8 1250.7 407.4 1250.9 405.8 1250.1 397.6 1250.7 406.8 1251.0 396.3 1250.2 391.7 1251.0 396.4 1250.3 391.8 1250.8 388.4 1250.9 391.0 1250.8 386.4 1251.2 385.1 1251.2 380.7 1250.5 378.4 1251.4 381.5 1251.1 373.1 1250.9 374.4 1251.3 371.7 1251.7 382.3 1251.8 379.6 1251.2 385.4 1251.5 387.7 1251.5 390.6 1251.0 388.3 1251.5 395.7 1251.4 391.6 1251.8 397.4 1251.6 403.4 1251.6 404.6 1251.7 406.0 1251.7 410.3 1252.0 413.1 1252.5 407.9 1251.7 419.0 1251.9 418.6 1251.9 423.4 1252.1 426.2 1252.6 425.7 1251.8 433.5 1252.7 432.0 1252.8 435.9 1252.0 438.4 1252.8 440.9 1252.7 437.2 1252.7 444.0 1252.4 446.0 1252.4 448.8 1252.8 451.7 1253.3 448.2 1253.0 452.8 1252.8 445.4 1253.0 442.7 1253.3 437.8 1253.3 435.9 1253.2 439.9 1253.3 436.4 1253.5 425.5 1254.1 426.7 1254.3 426.2 1254.3 422.6 1254.3 424.9 1254.8 418.0 1254.1 416.3 1254.6 413.2 1254.8 409.1 1254.8 406.1 1254.4 404.6 1255.2 401.6 1255.2 400.4 1255.2 406.4 1255.9 408.0 1255.4 409.3 1256.1 408.7 1256.1 413.7 1256.3 415.8 1256.5 418.1 1256.1 421.0 1256.7 423.5 1256.6 432.4 1256.3 428.1 1257.1 429.6 1257.0 434.9 1257.0 435.5 1257.0 433.0 1258.0 439.9 1257.4 441.9 1258.2 444.0 1257.9 448.2 1257.9 445.3 1258.0 443.4 1258.0 434.8 1257.8 434.1 1258.2 440.2 1258.6 431.7 1258.4 435.0 1258.7 429.2 1259.2 426.9 1258.9 424.4 1258.8 422.4 1259.2 417.3 1258.8 413.9 1259.5 414.3 1259.3 410.7 1259.6 413.2 1259.6 419.4 1259.6 417.2 1260.0 419.6 1260.3 422.3 1259.8 422.3 1260.4 426.8 1260.0 430.3 1260.6 431.4 1260.5 439.0 1261.2 441.3 1261.3 436.5 1261.2 437.8 1261.2 445.6 1261.5 447.2 1261.5 456.5 1261.7 453.2 1261.7 453.8 1261.3 455.8 1261.9 459.4 1262.0 461.9 1262.7 465.8 1263.0 464.8 1262.7 470.7 1263.4 475.2 1263.3 474.0 1263.9 476.7 1263.6 479.8 1264.2 480.9 1263.7 479.6 1264.2 489.2 1264.4 489.7 1264.7 492.7 1265.2 488.2 1266.8 487.6 1266.8 480.9 1268.4 482.6 1268.8 479.0 1270.0 477.7 1270.2 472.8 1270.5 472.4 1271.6 468.8 1271.9 465.4 1272.4 469.1 1272.7 460.1 1273.6 454.6 1273.8 454.9 1275.1 452.7 1274.7 450.7 1275.7 448.2 1276.2 444.8 1277.6 442.8 1278.6 440.2 1279.1 438.0 1280.5 433.8 1282.5 432.9 1283.2 434.5 1283.2 437.0 1283.0 447.4 1283.6 443.6 1283.8 444.5 1283.9 448.6 1284.1 451.6 1284.2 447.7 1284.9 455.1 1285.5 455.2 1286.8 451.6 1287.6 448.2 1288.3 451.0 1288.4 451.8 1288.5 455.7 1288.1 458.3 1288.9 462.6 1289.3 464.4 1288.6 466.3 1289.3 468.8 1289.6 466.4 1290.4 457.6 1291.0 460.4 1290.9 459.2 1291.4 455.1 1291.0 452.6 1291.2 454.2 1291.4 446.0 1291.5 446.8 1292.1 449.8 1291.5 439.7 1292.1 432.3 1291.8 429.4 1291.4 432.3 1291.6 431.1 1291.9 429.6 1291.8 423.9 1292.1 423.8 1292.0 420.3 1291.9 419.5 1292.1 409.5 1292.8 419.5 1292.6 412.2 1292.6 411.2 1292.4 403.5 1292.4 401.8 1292.9 401.2 1292.6 397.0 1293.0 392.4 1292.6 394.4 1292.4 395.7 1292.7 388.2 1292.5 387.4 1292.6 384.9 1293.3 381.6 1293.0 374.0 1293.0 372.9 1293.2 373.6 1293.3 371.3 1292.8 370.9 1292.8 367.9 1293.1 357.8 1293.8 363.3 1293.4 359.4 1293.5 361.4 1294.1 363.9 1293.5 364.9 1293.9 369.3 1293.7 370.9 1293.7 374.2 1294.3 377.6 1294.4 379.5 1294.1 382.3 1294.8 385.1 1294.4 387.6 1295.1 386.7 1295.1 392.2 1295.3 394.7 1295.1 394.4 1294.7 402.5 1295.6 401.6 1295.1 403.6 1295.3 403.5 1295.6 406.7 1295.3 410.5 1295.4 411.1 1295.8 415.2 1295.8 416.7 1295.8 420.8 1296.4 423.0 1296.2 424.3 1295.9 422.9 1295.9 420.4 1296.9 416.9 1296.4 416.7 1296.6 412.9 1296.6 408.9 1296.7 406.4 1296.5 405.6 1296.8 402.9 1297.1 402.0 1297.3 398.4 1296.7 401.6 1297.2 389.7 1297.1 391.0 1296.9 393.7 1297.7 385.9 1297.8 387.9 1297.7 381.1 1297.7 378.5 1297.9 382.4 1297.5 373.5 1297.8 372.1 1297.5 367.1 1298.4 370.2 1298.2 364.1 1298.7 365.1 1298.1 358.7 1298.4 354.1 1298.6 355.6 1298.8 353.6 1298.7 347.9 1298.9 347.7 1298.4 345.5 1298.9 342.3 1299.0 339.3 1299.2 348.5 1299.4 346.4 1300.3 352.3 1300.2 355.8 1300.6 360.4 1300.9 359.6 1300.3 362.2 1301.5 364.2 1301.3 366.2 1301.8 369.5 1301.7 367.8 1301.1 373.4 1301.8 377.1 1302.1 379.2 1301.3 382.2 1301.7 384.7 1301.5 385.8 1302.3 388.6 1302.1 395.0 1301.9 393.8 1302.2 391.5 1302.6 397.0 1302.4 401.3 1301.8 408.0 1301.9 403.4 1302.5 407.6 1302.6 408.7 1302.6 413.6 1302.4 415.0 1303.0 422.0 1303.1 418.3 1303.1 423.6 1302.8 422.2 1302.9 426.5 1303.2 422.9 1303.2 432.2 1303.5 430.6 1303.3 438.6 1303.7 437.7 1303.4 443.4 1303.0 451.5 1303.8 448.4 1303.2 449.2 1303.7 451.7 1303.5 452.9 1304.0 446.5 1304.4 442.9 1304.5 441.6 1304.2 440.1 1304.4 437.6 1304.4 435.7 1305.0 430.5 1305.4 429.5 1304.6 427.7 1305.4 424.2 1304.9 421.0 1305.8 414.0 1305.6 416.3 1305.6 418.2 1306.1 412.5 1305.9 408.0 1306.0 407.0 1306.4 403.8 1306.2 406.0 1306.3 407.2 1306.8 411.1 1306.3 413.9 1307.2 414.3 1306.8 417.4 1307.5 421.5 1307.3 422.7 1306.8 424.1 1307.0 427.9 1307.6 434.5 1307.3 433.8 1307.5 430.9 1307.6 439.3 1308.1 438.8 1308.1 440.5 1308.0 446.1 1308.4 442.5 1308.2 449.6 1308.1 451.0 1308.7 453.5 1309.0 456.5 1308.9 457.8 1308.5 461.8 1309.3 465.0 1308.8 464.6 1309.2 468.8 1309.6 469.7 1310.6 477.6 1311.5 477.4 1312.0 480.6 1313.2 482.4 1314.3 481.6 1314.9 488.0 1315.9 490.7 1316.7 492.7 1316.9 489.1 1317.3 489.2 1316.8 489.5 1317.5 483.7 1317.5 481.1 1318.1 476.3 1318.3 467.7 1318.4 472.2 1318.6 466.3 1318.3 470.6 1318.6 470.1 1319.5 462.2 1319.3 458.0 1319.0 455.7 1319.3 453.7 1319.9 453.3 1319.9 449.2 1319.9 447.8 1320.3 441.4 1320.4 439.4 1320.5 440.5 1320.9 438.5 1320.8 434.6 1321.6 424.6 1322.8 427.8 1323.3 428.6 1323.0 428.2 1323.7 435.1 1323.1 437.0 1323.8 444.2 1323.4 443.7 1323.9 446.4 1323.4 445.9 1323.4 448.0 1324.3 455.1 1324.1 456.1 1323.9 455.1 1324.7 457.8 1325.0 460.0 1325.1 469.6 1324.8 463.9 1324.9 468.8 1324.8 467.7 1325.0 459.7 1324.7 463.1 1324.8 459.7 1325.9 458.0 1325.0 455.1 1325.5 451.8 1326.0 450.7 1325.6 446.0 1325.9 444.5 1326.1 442.0 1326.3 438.9 1325.8 438.6 1325.8 432.7 1326.0 431.3 1326.3 428.9 1326.2 423.7 1326.5 423.5 1326.6 423.1 1327.2 421.6 1326.9 417.5 1326.9 420.6 1327.1 422.8 1326.8 424.1 1327.1 428.6 1327.6 423.6 1327.4 431.5 1327.6 432.3 1327.1 437.3 1327.5 434.3 1327.7 442.3 1327.4 443.0 1328.3 448.4 1327.4 450.0 1327.9 445.1 1327.8 454.9 1328.3 453.5 1328.4 457.6 1328.3 464.5 1328.2 463.8 1328.1 466.0 1328.3 467.4 1328.9 470.7 1328.4 468.0 1329.0 475.8 1329.0 478.7 1329.2 480.1 1328.9 483.0 1329.3 484.0 1329.2 492.7 1328.8 493.3 1329.3 492.7 1329.8 489.9 1329.5 488.3 1329.1 485.4 1330.2 484.5 1329.5 480.5 1329.9 477.3 1330.3 475.8 1330.2 474.6 1330.2 475.9 1330.2 469.5 1330.5 471.1 1331.0 463.5 1330.1 463.1 1330.8 455.6 1331.0 456.8 1330.7 451.9 1331.0 451.7 1331.1 452.0 1331.5 457.8 1332.5 459.0 1332.3 462.8 1332.9 463.6 1333.3 459.9 1333.0 470.4 1333.8 472.2 1333.9 468.8 1335.2 467.1 1334.9 465.5 1335.5 462.5 1336.6 453.5 1336.8 458.7 1337.2 455.1 1337.3 457.1 1337.9 458.5 1338.5 460.2 1338.8 463.9 1338.7 465.9 1339.4 471.8 1339.0 472.9 1339.4 475.3 1339.6 482.1 1340.6 477.7 1340.6 482.4 1341.6 479.1 1341.9 475.5 1342.8 468.3 1343.4 472.3 1344.0 468.8 1343.8 464.4 1344.9 463.3 1345.2 455.1 1345.2 460.0 1344.7 457.6 1345.7 454.2 1345.4 450.6 1345.4 449.7 1346.4 444.3 1346.1 443.2 1346.9 441.5 1346.7 438.0 1347.1 441.3 1347.3 441.4 1347.3 446.6 1348.0 447.1 1348.1 451.3 1348.4 452.3 1348.3 455.5 1348.1 459.0 1348.6 454.2 1348.4 460.4 1349.0 464.7 1349.1 468.8 1349.2 466.3 1349.5 465.0 1350.6 465.2 1350.8 458.4 1351.6 454.4 1352.0 455.0 1352.5 449.3 1352.2 454.2 1353.4 442.3 1353.1 441.6 1353.7 440.3 1354.2 438.0 1355.0 445.8 1355.2 438.1 1355.6 447.5 1356.0 450.5 1356.8 449.7 1356.6 453.6 1357.7 455.6 1357.7 458.5 1358.3 454.9 1358.3 449.3 1358.1 454.6 1358.3 447.6 1359.1 447.7 1358.7 442.4 1359.7 439.1 1359.5 440.3 1360.0 436.3 1359.6 432.4 1360.7 430.7 1360.9 424.7 1360.4 432.7 1361.1 424.3 1361.4 421.6 1361.4 426.5 1361.0 416.7 1361.7 422.0 1362.0 409.5 1362.1 411.2 1361.8 407.4 1361.8 408.0 1362.6 404.1 1362.2 395.1 1362.6 399.3 1362.8 399.8 1362.9 393.9 1362.9 388.9 1362.6 389.3 1362.9 384.8 1363.6 382.4 1363.1 380.5 1363.6 372.9 1363.8 377.2 1363.3 372.7 1363.6 370.9 1363.7 371.1 1363.5 366.9 1364.1 362.7 1364.4 360.8 1364.7 358.3 1364.5 356.0 1365.1 352.4 1365.2 349.4 1364.8 344.8 1365.2 342.1 1365.8 345.3 1365.6 342.8 1366.3 339.5 1366.2 336.3 1366.8 335.5 1366.5 330.1 1367.0 326.4 1367.5 326.9 1367.7 326.4 1368.2 326.0 1368.1 326.2 1368.8 316.9 1368.6 315.0 1368.9 317.7 1369.3 310.0 1368.6 309.4 1368.8 305.8 1369.5 302.3 1369.3 307.6 1369.6 298.6 1370.0 295.2 1369.5 295.0 1369.8 290.9 1369.7 289.8 1370.1 291.4 1369.9 288.2 1369.8 281.8 1370.0 278.8 1370.9 270.1 1370.8 273.8 1371.1 274.6 1370.8 269.3 1371.1 266.7 1371.0 263.8 1371.2 260.5 1370.9 260.2 1371.3 256.9 1371.7 262.1 1372.3 261.9 1372.1 262.9 1372.5 266.4 1372.7 270.2 1372.5 271.8 1373.4 274.9 1373.0 275.8 1373.8 278.3 1373.2 285.6 1374.1 286.8 1374.1 287.7 1374.2 291.5 1374.0 291.6 1374.3 296.6 1374.1 297.0 1374.6 298.5 1374.7 301.2 1374.5 302.7 1373.8 305.6 1374.4 313.1 1374.3 318.4 1374.7 312.6 1374.9 317.8 1375.0 313.4 1374.7 319.7 1374.3 329.3 1374.9 319.4 1374.9 332.8 1374.4 331.5 1375.1 328.2 1375.1 336.1 1374.5 338.8 1374.4 338.9 1374.8 344.6 1374.9 344.9 1375.1 349.5 1375.4 350.4 1374.6 352.4 1374.9 354.6 1375.1 359.0 1374.7 358.1 1375.2 362.1 1375.1 366.7 1375.6 367.0 1375.6 373.5 1375.5 376.1 1375.0 374.7 1375.1 375.8 1375.1 377.3 1375.6 383.5 1375.9 384.3 1375.0 385.4 1375.3 390.2 1375.7 391.8 1375.2 394.9 1375.6 402.9 1376.0 405.2 1376.1 400.7 1375.9 401.7 1375.6 404.8 1375.6 411.0 1375.5 409.2 1375.4 411.2 1375.5 416.0 1376.2 416.0 1375.7 414.9 1375.7 423.9 1375.8 425.4 1376.0 426.6 1375.8 430.9 1376.0 435.4 1376.3 435.9 1376.4 437.2 1375.9 437.8 1376.7 442.6 1376.5 439.9 1376.1 444.9 1376.8 449.4 1376.2 450.1 1376.7 451.2 1376.5 457.7 1376.5 458.5 1378.2 459.6 1379.4 471.1 1380.7 465.9 1381.6 468.8 1382.2 463.1 1382.2 463.1 1382.3 462.8 1383.5 460.8 1383.1 456.1 1383.7 455.1 1384.3 451.7 1384.2 454.5 1384.3 455.1 1385.5 460.2 1385.0 461.1 1385.2 462.7 1385.5 462.1 1386.2 470.0 1386.5 477.4 1386.3 480.5 1386.6 476.7 1386.7 479.0 1386.6 482.4 1387.5 484.9 1387.3 481.4 1387.9 490.3 1388.0 491.4 1388.3 493.0 1388.0 496.7 1388.5 495.8 1388.1 501.5 1388.5 503.8 1389.2 508.1 1389.1 509.8 1389.8 506.5 1390.1 506.5 1390.1 506.5 1390.8 499.8 1391.3 495.9 1391.9 496.5 1391.8 492.7 1392.4 491.4 1393.5 487.8 1394.4 486.0 1395.2 482.4 1395.7 486.8 1395.9 486.2 1396.8 487.2 1397.9 492.5 1398.0 496.1 1398.1 493.7 1398.3 494.6 1398.1 490.0 1398.2 487.0 1398.7 482.2 1398.6 480.4 1398.8 478.6 1398.9 470.4 1399.3 472.4 1399.4 465.8 1399.2 470.1 1399.7 465.8 1399.9 467.3 1400.0 461.6 1400.0 459.3 1400.6 457.8 1401.1 455.6 1400.8 445.1 1400.9 447.7 1401.1 447.6 1401.0 442.5 1401.4 441.4 1401.3 445.3 1402.0 448.0 1401.6 449.8 1401.9 450.4 1402.8 454.8 1402.9 457.2 1402.6 460.4 1403.4 458.5 1403.5 465.2 1403.2 466.4 1403.8 468.8 1404.2 467.2 1404.1 469.9 1404.8 455.7 1404.8 457.5 1404.6 455.1 1404.7 451.3 1405.1 450.1 1405.5 450.0 1406.0 444.4 1406.1 444.7 1406.3 438.8 1406.2 438.0 1406.2 443.6 1406.6 440.1 1406.9 447.1 1406.9 448.1 1406.8 456.4 1407.0 449.5 1407.3 455.4 1407.5 457.5 1407.7 463.9 1408.4 464.2 1408.5 460.7 1408.2 468.9 1408.6 468.6 1408.9 472.2 1410.1 471.2 1410.7 466.4 1412.3 465.3 1413.0 463.0 1412.8 461.0 1413.5 457.3 1414.5 455.0 1414.0 452.2 1415.3 449.6 1415.4 448.4 1415.8 444.8 1416.0 448.6 1416.6 448.2 1416.3 451.1 1417.1 460.2 1417.4 455.5 1417.7 459.0 1417.7 461.4 1417.3 465.9 1418.3 472.4 1418.4 469.4 1418.3 471.5 1418.4 470.5 1419.0 476.0 1419.2 479.0 1419.3 473.5 1419.5 474.0 1419.2 475.5 1419.5 467.9 1419.6 466.3 1419.3 465.1 1419.1 463.6 1419.9 463.9 1419.7 454.0 1419.3 454.5 1419.7 451.4 1419.2 455.8 1419.2 442.1 1420.0 445.1 1419.6 442.4 1419.9 438.9 1419.2 436.5 1419.3 434.1 1419.9 428.7 1420.1 428.5 1419.8 426.1 1419.8 421.1 1419.9 422.8 1419.8 418.8 1420.3 416.9 1419.6 419.9 1420.2 412.0 1420.0 411.1 1419.7 408.7 1419.9 410.9 1420.6 403.0 1420.1 400.4 1420.1 399.8 1420.3 397.2 1419.8 395.0 1420.7 395.7 1420.7 394.5 1420.6 387.4 1420.0 379.0 1420.0 388.6 1420.1 380.7 1420.2 382.4 1420.4 379.8 1420.2 373.4 1420.6 367.4 1420.2 365.9 1420.7 364.5 1420.5 363.6 1420.7 359.1 1420.3 358.2 1420.6 354.3 1421.2 350.5 1421.2 349.2 1420.6 346.5 1421.0 349.8 1420.9 342.3 1421.5 340.3 1421.3 342.4 1421.7 336.3 1422.4 331.8 1422.6 330.2 1422.9 325.2 1423.9 323.6 1424.3 321.8 1424.3 313.2 1425.3 318.4 1425.5 314.3 1426.3 313.9 1426.7 312.4 1426.3 307.3 1427.6 305.6 1427.3 303.3 1428.1 299.8 1428.4 297.9 1429.0 301.8 1428.7 301.4 1429.3 308.2 1429.2 306.6 1429.5 308.4 1429.5 312.3 1429.3 315.8 1429.8 322.8 1430.4 320.0 1430.0 322.6 1430.4 329.1 1431.0 325.6 1430.7 330.7 1431.1 332.1 1430.7 336.1 1431.5 332.9 1431.5 342.4 1431.7 342.7 1431.5 345.9 1431.8 346.9 1431.9 348.1 1431.6 350.1 1432.1 354.3 1431.6 357.9 1431.8 358.2 1432.1 360.9 1432.0 359.8 1432.2 367.2 1431.9 366.2 1431.7 371.7 1431.8 371.7 1431.5 375.0 1431.8 379.3 1431.7 382.2 1431.9 377.6 1431.8 390.5 1432.0 386.8 1432.3 384.4 1432.5 393.2 1432.3 395.6 1432.1 390.7 1432.8 400.2 1432.6 403.0 1432.7 404.8 1432.7 413.0 1432.4 408.3 1432.3 410.4 1432.4 414.8 1433.3 416.1 1432.6 415.2 1432.9 421.5 1433.2 422.4 1433.0 427.6 1433.2 430.4 1433.0 432.7 1432.9 432.2 1433.2 434.7 1433.5 440.0 1433.3 442.5 1433.0 447.7 1433.0 446.5 1433.5 448.2 1433.9 450.1 1433.9 442.7 1433.7 442.3 1433.5 439.1 1434.3 437.9 1434.4 436.9 1434.3 432.7 1433.7 430.7 1433.9 426.8 1434.6 424.6 1434.8 425.7 1434.1 419.1 1434.9 422.4 1434.8 415.0 1435.3 410.4 1435.1 409.6 1435.2 405.9 1435.4 404.5 1435.6 401.7 1434.8 398.0 1435.5 396.3 1435.2 394.1 1435.3 385.9 1435.6 390.2 1435.8 396.6 1435.4 394.4 1435.7 403.7 1436.0 405.5 1436.3 403.2 1435.8 405.6 1436.3 406.6 1436.8 408.7 1436.1 413.5 1436.8 418.3 1436.3 417.3 1436.8 415.9 1437.3 424.1 1437.1 428.1 1437.4 432.0 1437.2 429.5 1437.0 431.0 1437.5 435.4 1437.6 435.0 1438.0 440.6 1438.1 443.4 1438.0 444.8 1437.6 441.6 1437.7 440.2 1437.9 437.0 1438.3 432.7 1437.9 427.5 1438.3 431.3 1438.3 426.7 1438.1 427.0 1438.4 418.4 1439.1 425.0 1439.0 416.9 1439.0 409.9 1439.4 412.8 1439.5 412.4 1438.6 407.5 1438.9 407.4 1439.2 400.3 1438.9 404.6 1439.7 394.4 1438.9 395.3 1439.8 399.8 1439.6 391.8 1439.2 391.2 1439.3 383.1 1439.8 385.5 1440.3 380.9 1439.8 375.0 1440.4 376.0 1440.4 376.8 1440.2 372.0 1439.7 371.9 1440.0 369.3 1440.1 365.9 1440.5 363.4 1440.3 361.9 1440.9 358.0 1440.8 360.0 1440.3 353.5 1440.5 352.9 1441.2 348.7 1440.9 344.8 1440.7 345.4 1441.1 340.0 1441.1 338.3 1441.5 337.1 1440.8 335.6 1441.4 332.1 1441.1 336.3 1441.9 335.3 1442.2 340.4 1441.6 343.5 1442.0 344.2 1442.2 352.3 1442.3 349.8 1442.4 353.1 1442.7 355.8 1442.8 356.2 1443.3 358.7 1443.0 362.0 1443.7 368.5 1444.2 366.5 1444.1 372.1 1443.6 372.4 1443.9 371.9 1444.3 377.6 1444.2 377.6 1444.1 379.2 1444.8 383.3 1444.8 390.8 1445.6 389.8 1446.2 385.7 1446.8 394.4 1447.4 396.1 1447.7 399.1 1448.2 400.4 1448.6 404.1 1448.8 406.9 1448.2 402.6 1448.2 410.0 1448.7 408.9 1448.7 418.9 1449.3 416.8 1448.8 420.0 1448.9 423.9 1449.6 423.8 1449.3 429.1 1449.7 428.3 1449.3 432.5 1449.4 432.9 1449.4 432.0 1450.1 439.8 1449.5 439.6 1449.6 448.1 1449.6 442.9 1450.1 449.3 1450.4 452.4 1450.3 453.4 1450.3 456.7 1450.6 454.1 1450.8 459.9 1450.6 462.7 1450.4 466.9 1451.2 464.6 1450.9 470.6 1450.7 474.6 1451.6 476.1 1451.4 476.9 1451.3 480.7 1451.1 484.8 1451.6 485.8 1451.3 481.4 1451.5 482.2 1451.8 478.8 1451.4 483.5 1452.1 476.8 1451.3 465.7 1451.8 467.7 1451.9 466.2 1452.2 463.2 1451.5 459.9 1452.3 461.0 1452.0 456.9 1452.3 454.2 1452.5 450.9 1451.8 450.9 1452.4 442.2 1451.8 445.4 1452.5 443.4 1452.3 439.2 1452.5 436.5 1452.4 435.1 1452.7 433.2 1452.2 436.1 1452.7 431.1 1452.3 424.4 1452.4 427.4 1452.8 417.2 1452.5 419.2 1452.6 413.4 1452.6 412.1 1452.8 417.4 1453.0 409.3 1453.1 409.3 1452.9 403.3 1452.6 400.3 1452.6 396.4 1452.7 397.8 1452.6 394.9 1452.5 391.1 1452.8 388.4 1452.8 387.3 1452.6 387.6 1452.8 382.6 1452.8 378.2 1453.6 376.3 1453.0 370.8 1453.6 368.3 1453.3 369.7 1454.5 373.8 1455.3 365.1 1455.9 362.0 1457.0 354.1 1457.4 356.0 1458.3 357.8 1458.5 360.5 1459.0 365.8 1459.3 366.3 1460.2 369.7 1461.0 377.2 1462.0 375.5 1462.6 375.2 1463.6 379.9 1463.4 380.7 1464.0 383.9 1464.8 388.2 1464.2 390.5 1464.5 394.2 1464.8 393.2 1465.2 391.2 1465.5 400.6 1465.8 403.5 1466.1 404.9 1466.3 407.4 1465.8 404.4 1466.7 416.5 1466.6 414.8 1467.0 417.5 1467.5 419.0 1468.7 423.4 1470.0 424.3 1469.7 428.1 1470.4 429.1 1470.5 436.0 1471.1 435.3 1470.9 436.9 1470.8 439.3 1471.5 440.8 1471.7 442.4 1472.0 451.7 1472.1 448.1 1471.8 446.4 1472.3 455.2 1472.6 455.3 1472.6 457.2 1472.8 456.3 1473.0 463.3 1473.0 465.9 1473.4 468.8 1474.0 470.5 1474.0 463.0 1473.8 460.6 1474.0 459.6 1473.5 457.3 1474.1 454.2 1473.9 450.3 1473.9 446.0 1474.1 448.7 1475.0 443.5 1474.5 440.3 1475.4 439.7 1474.8 437.6 1475.1 434.6 1475.7 433.7 1475.7 427.8 1475.7 428.4 1475.9 430.9 1475.8 420.8 1475.3 419.1 1475.4 413.9 1475.6 418.9 1475.8 413.9 1475.6 404.1 1475.7 407.3 1476.3 410.9 1476.0 401.8 1476.0 402.2 1476.8 398.2 1476.0 396.7 1476.7 395.2 1476.4 394.5 1477.0 389.1 1476.3 385.5 1476.8 383.3 1477.0 375.9 1477.2 376.8 1478.5 376.6 1478.5 373.1 1478.7 374.5 1479.5 379.2 1479.7 379.0 1480.2 383.3 1480.6 377.8 1480.7 372.3 1480.2 375.3 1480.5 372.1 1480.7 365.7 1481.4 374.3 1480.7 365.0 1481.6 356.6 1481.8 360.1 1481.6 360.6 1482.0 358.2 1481.6 354.0 1481.7 351.5 1481.5 349.5 1481.9 349.9 1482.2 345.7 1482.3 341.5 1482.5 340.4 1482.9 338.1 1482.8 334.3 1482.6 338.2 1483.2 333.8 1483.0 326.2 1483.0 325.4 1483.7 322.5 1483.8 319.6 1483.8 318.7 1483.7 315.0 1483.4 318.9 1483.8 321.7 1484.6 321.3 1484.9 326.4 1485.3 326.2 1485.3 328.4 1485.4 332.1 1485.5 325.3 1485.8 331.6 1485.7 321.6 1485.9 321.9 1485.6 318.9 1485.9 324.5 1486.2 314.5 1485.9 311.4 1485.9 309.4 1485.8 304.2 1486.3 304.0 1486.2 298.8 1485.8 300.6 1486.0 297.6 1486.4 294.0 1486.4 292.4 1486.9 288.7 1486.4 289.2 1486.5 286.9 1486.6 284.4 1486.6 280.1 1486.8 279.2 1487.0 275.7 1487.2 269.1 1487.1 270.6 1487.4 266.6 1488.2 267.3 1488.6 270.3 1488.1 259.1 1489.3 259.7 1489.0 257.5 1489.5 253.5 1489.2 254.4 1489.7 257.8 1489.7 259.8 1489.8 260.0 1489.8 266.7 1490.5 268.0 1489.9 267.8 1490.9 276.3 1490.7 274.9 1490.2 279.4 1490.9 279.3 1490.5 284.1 1490.9 286.4 1491.2 287.7 1492.3 290.1 1493.2 294.5 1493.1 292.5 1494.1 289.2 1493.7 287.5 1494.3 281.5 1494.2 282.2 1495.1 279.8 1495.0 270.2 1495.6 274.0 1496.1 279.4 1496.5 276.4 1496.2 276.2 1496.2 282.6 1496.6 287.1 1497.5 289.2 1497.3 291.1 1497.7 293.7 1498.6 291.4 1498.5 303.5 1499.0 302.4 1499.9 302.8 1500.2 301.5 1500.1 309.7 1500.8 311.6 1500.4 310.2 1501.2 308.0 1500.7 305.6 1501.1 301.7 1501.5 300.3 1501.7 292.0 1501.4 293.6 1501.3 288.2 1501.5 287.1 1501.7 288.7 1501.7 286.1 1502.0 283.8 1502.2 275.3 1502.2 277.7 1502.7 275.3 1502.2 272.4 1502.5 271.8 1502.6 266.6 1503.1 264.3 1503.2 262.6 1502.7 255.8 1503.4 254.7 1503.1 256.5 1503.1 249.1 1503.5 252.2 1504.0 249.3 1504.1 245.1 1503.7 244.4 1504.1 242.1 1504.1 243.3 1504.2 236.4 1504.6 238.3 1504.0 240.9 1504.7 243.8 1504.7 242.8 1504.5 250.4 1505.3 251.4 1504.8 254.7 1504.9 252.3 1505.1 254.3 1504.9 261.0 1505.2 261.0 1505.1 265.9 1505.3 269.6 1505.9 264.7 1505.7 278.2 1505.7 273.7 1505.6 277.1 1505.8 280.9 1506.7 283.5 1506.6 285.1 1506.5 286.2 1507.0 288.9 1506.5 296.0 1506.9 294.5 1507.4 297.2 1507.3 295.4 1507.9 301.9 1508.0 305.3 1508.0 305.1 1508.2 308.3 1508.3 311.6 1508.5 305.0 1509.0 311.8 1508.9 304.4 1509.0 300.5 1509.5 299.5 1509.7 295.4 1509.3 298.2 1509.4 292.6 1510.2 287.9 1510.3 282.2 1510.8 285.5 1511.0 279.3 1511.2 281.1 1511.0 277.4 1511.1 274.5 1511.4 270.3 1512.2 271.1 1512.7 267.7 1512.6 266.4 1513.5 262.3 1513.3 261.1 1513.4 262.9 1513.9 257.5 1514.4 253.5 1514.4 249.4 1515.1 245.9 1515.2 241.5 1515.2 242.2 1514.9 241.7 1514.9 238.2 1515.3 235.1 1515.3 234.4 1515.7 231.5 1515.6 227.8 1516.0 225.6 1515.8 223.3 1515.9 223.6 1516.3 220.3 1515.7 222.1 1515.8 215.1 1516.2 210.4 1516.7 208.8 1516.5 208.9 1516.0 205.7 1516.3 202.1 1516.9 199.2 1516.6 196.6 1517.0 190.9 1516.7 194.7 1516.6 192.4 1517.2 188.6 1517.5 190.1 1517.3 192.0 1518.2 196.2 1517.9 197.8 1517.9 200.7 1518.4 201.7 1519.2 211.8 1519.0 209.0 1519.6 211.7 1519.5 212.5 1519.7 213.9 1520.7 221.5 1520.8 221.4 1520.4 223.7 1520.9 225.4 1521.2 232.2 1521.9 229.6 1522.8 225.3 1523.1 223.7 1524.1 225.6 1524.7 219.3 1525.2 216.8 1526.7 213.5 1527.2 212.5 1528.1 209.1 1527.9 210.4 1528.1 212.6 1528.3 218.0 1528.8 219.7 1529.0 222.1 1529.7 227.5 1529.3 227.9 1529.8 229.6 1530.2 224.0 1530.2 228.3 1530.7 220.9 1531.2 220.7 1531.8 218.8 1531.7 215.7 1532.1 211.2 1532.2 209.3 1533.0 210.0 1533.2 203.0 1533.2 202.2 1534.3 199.3 1534.2 196.4 1534.9 193.9 1535.5 192.2 1536.6 188.6 1536.9 184.7 1537.8 180.0 1538.3 180.9 1539.7 177.2 1540.0 174.9 1540.8 178.3 1540.4 171.2 1541.4 168.7 1541.2 164.1 1542.1 160.0 1541.8 164.1 1542.4 157.8 1542.7 154.7 1542.8 152.1 1543.0 149.8 1543.7 148.0 1543.1 150.2 1543.2 143.8 1543.9 136.8 1544.4 139.3 1544.1 140.5 1544.7 138.1 1544.2 132.5 1544.4 130.2 1544.6 125.0 1545.2 123.7 1545.2 127.0 1546.1 132.6 1546.5 130.0 1546.4 132.3 1546.8 134.2 1547.7 139.3 1547.3 142.6 1547.6 143.8 1548.2 142.2 1548.6 147.6 1549.5 138.7 1550.9 141.9 1551.3 140.8 1552.1 139.5 1551.8 136.3 1553.2 138.7 1553.5 128.2 1553.7 127.1 1553.9 123.7 1555.1 133.3 1555.2 135.5 1555.9 135.7 1556.2 138.9 1556.2 142.8 1557.1 144.2 1558.4 143.5 1558.4 139.5 1559.5 137.3 1559.9 143.5 1560.1 142.6 1559.9 144.1 1560.5 141.8 1560.8 142.6 1560.5 153.4 1560.7 155.6 1561.3 155.7 1561.5 162.7 1561.6 161.2 1562.1 163.2 1561.6 167.6 1561.9 167.3 1561.9 169.8 1561.4 173.8 1561.5 177.3 1562.1 179.8 1562.3 181.4 1562.5 182.3 1561.8 185.0 1562.2 192.9 1562.8 190.6 1562.8 192.8 1562.1 193.8 1562.2 197.1 1562.3 200.2 1562.5 200.4 1563.1 204.0 1562.4 207.0 1563.2 210.3 1562.9 212.5 1562.9 214.1 1563.0 216.1 1563.0 220.7 1563.1 222.2 1563.0 225.9 1563.5 225.5 1563.2 224.7 1563.5 228.0 1563.8 234.1 1564.1 236.7 1564.1 235.0 1564.0 241.1 1563.8 243.3 1564.2 247.8 1564.3 244.1 1564.0 250.2 1564.3 253.6 1564.1 255.9 1564.4 256.6 1564.8 265.2 1564.2 259.9 1565.0 262.4 1564.1 270.0 1564.8 272.1 1565.0 273.7 1564.9 277.6 1564.4 277.4 1565.0 280.8 1564.9 280.9 1565.1 284.7 1566.0 291.4 1565.9 291.4 1566.3 299.8 1565.9 294.8 1566.3 297.9 1566.7 296.1 1566.8 296.2 1566.8 293.5 1567.1 287.3 1567.2 286.9 1567.4 285.2 1567.8 281.6 1567.2 280.4 1567.9 275.2 1568.0 273.5 1568.4 272.1 1568.5 269.6 1568.9 266.8 1568.8 265.6 1568.8 261.6 1569.1 258.0 1569.1 256.9 1569.9 254.7 1569.9 256.5 1570.5 250.4 1570.6 249.5 1571.0 243.4 1571.8 241.3 1571.8 239.8 1572.5 241.5 1573.0 244.9 1574.2 246.7 1574.1 245.9 1574.9 245.1 1574.7 240.4 1575.2 238.6 1574.6 233.2 1574.6 233.2 1575.4 236.0 1575.1 226.2 1575.4 228.7 1576.1 226.2 1576.4 220.1 1575.8 215.7 1575.7 209.0 1576.6 213.5 1576.2 205.7 1576.6 206.1 1576.6 211.1 1576.9 202.2 1577.0 205.7 1577.0 208.4 1577.4 213.8 1577.2 210.8 1576.7 218.4 1577.6 216.4 1577.6 217.9 1577.6 221.5 1577.7 225.2 1577.7 228.1 1577.5 224.3 1577.7 232.5 1577.5 232.3 1577.6 237.2 1577.9 244.4 1577.2 242.1 1577.4 246.7 1577.8 243.4 1577.8 245.3 1577.2 249.5 1578.1 252.7 1577.8 254.9 1577.9 256.2 1578.0 261.3 1578.3 267.9 1578.2 263.4 1578.1 269.4 1578.4 266.6 1578.3 274.2 1577.9 276.1 1578.5 279.0 1578.2 275.4 1577.6 281.6 1577.8 283.3 1578.0 285.6 1578.5 296.1 1578.3 286.5 1578.0 293.8 1578.3 298.1 1577.9 300.6 1578.4 302.6 1578.5 304.1 1578.3 307.1 1578.0 310.3 1578.3 310.4 1578.4 313.9 1578.4 317.5 1578.7 318.4 1578.4 314.0 1578.6 317.3 1578.9 310.5 1579.0 308.0 1578.9 309.3 1579.2 303.7 1579.0 299.5 1579.0 301.8 1579.3 294.9 1579.5 295.3 1578.9 290.8 1579.3 290.1 1578.9 286.4 1579.0 285.1 1579.6 282.9 1579.8 274.3 1579.4 282.0 1579.4 280.1 1579.8 265.9 1579.1 266.3 1580.1 266.5 1579.7 260.4 1579.4 265.7 1579.5 259.7 1579.8 254.9 1580.2 253.5 1580.1 253.2 1579.5 250.5 1580.0 246.7 1580.5 248.3 1580.7 251.2 1580.5 254.1 1580.8 257.2 1580.6 258.2 1580.5 255.6 1580.3 265.5 1580.5 265.1 1580.9 268.4 1581.4 270.2 1580.9 269.7 1581.4 276.4 1581.0 278.0 1581.5 279.5 1581.4 282.0 1582.3 286.6 1582.1 286.8 1582.4 290.1 1582.2 294.9 1582.5 296.4 1582.6 301.3 1582.8 300.9 1582.2 302.2 1583.1 310.4 1582.8 308.2 1582.9 304.5 1583.6 303.4 1583.5 299.6 1583.6 297.7 1583.5 296.7 1584.4 294.1 1584.8 290.1 1584.7 287.7 1585.0 285.9 1585.3 282.0 1585.5 280.8 1585.5 281.5 1585.9 282.0 1585.9 288.2 1586.4 291.4 1586.5 293.9 1586.0 296.2 1586.4 297.2 1587.2 302.3 1586.8 304.6 1586.5 301.0 1587.6 312.7 1587.6 310.5 1587.7 314.8 1587.6 316.7 1588.0 317.6 1587.8 319.0 1587.7 318.9 1588.7 321.2 1588.0 328.6 1588.7 330.8 1588.4 337.4 1588.9 335.5 1589.0 332.9 1589.5 329.7 1589.2 328.1 1589.7 326.0 1589.0 322.1 1589.5 319.9 1590.0 318.5 1589.5 316.5 1589.9 314.6 1589.9 313.1 1590.1 310.3 1590.3 308.2 1589.8 310.9 1590.7 299.9 1590.4 298.7 1590.8 297.0 1590.5 295.8 1591.1 291.7 1591.2 290.5 1590.9 286.0 1591.5 283.5 1590.9 285.0 1591.6 281.0 1591.3 277.4 1591.3 278.8 1591.1 285.7 1591.3 284.2 1591.3 282.3 1592.2 290.3 1592.2 292.0 1591.6 293.6 1592.2 296.0 1591.9 299.7 1592.0 301.9 1592.7 303.5 1592.8 309.3 1592.5 309.4 1592.8 312.1 1592.9 313.0 1592.5 313.3 1593.3 318.9 1593.1 314.9 1592.8 324.4 1593.5 328.1 1593.0 328.6 1593.4 333.3 1593.3 334.0 1593.2 335.7 1593.7 338.9 1597.1 338.9 1597.8 336.1 1598.0 333.5 1598.0 333.2 1598.7 328.9 1598.2 328.0 1598.8 323.3 1599.7 322.1 1599.6 318.6 1599.7 316.9 1600.6 311.3 1600.5 311.6 1600.6 314.1 1600.7 316.6 1601.6 317.6 1600.8 328.2 1601.0 323.0 1601.8 324.8 1601.4 329.9 1602.3 331.2 1601.9 334.6 1602.9 335.2 1603.2 340.0 1602.8 341.7 1602.6 341.7 1603.2 345.8 1603.7 342.0 1603.7 344.8 1603.8 339.4 1604.8 336.0 1604.2 329.2 1605.0 328.7 1605.1 327.3 1605.2 323.6 1605.9 324.1 1605.9 321.0 1606.6 315.8 1606.7 315.0 1606.6 318.1 1606.9 319.5 1607.6 324.1 1608.4 325.2 1608.0 327.2 1608.4 324.3 1609.3 327.4 1609.2 336.5 1609.4 337.4 1609.9 338.3 1610.1 342.3 1610.2 345.7 1611.0 352.2 1611.3 351.5 1611.2 351.8 1611.3 362.2 1612.3 358.1 1613.0 365.5 1612.8 362.8 1613.8 363.3 1614.1 360.8 1615.1 355.8 1615.2 349.6 1616.2 349.2 1616.2 352.5 1616.1 351.5 1617.1 355.3 1616.5 360.3 1617.0 357.2 1616.9 367.1 1617.2 364.8 1617.4 369.2 1618.0 370.5 1618.4 376.0 1618.2 374.5 1618.0 379.7 1618.7 382.0 1618.6 383.3 1619.2 379.6 1619.5 372.5 1619.3 379.3 1619.4 374.4 1619.4 370.7 1619.5 366.4 1620.2 365.7 1620.3 363.5 1621.2 358.9 1621.1 358.6 1621.3 355.6 1621.4 352.6 1621.4 353.7 1622.2 358.4 1621.7 361.2 1621.8 361.7 1622.5 366.2 1622.5 361.2 1622.6 369.4 1623.0 371.8 1622.7 375.8 1622.9 378.8 1623.9 379.9 1623.8 383.3 1623.8 385.9 1624.6 388.0 1624.7 390.0 1624.8 389.3 1624.7 396.2 1625.1 396.9 1625.7 399.1 1625.7 406.3 1626.4 406.3 1626.1 410.8 1626.3 409.8 1626.4 406.4 1627.3 418.6 1627.2 417.5 1627.7 415.7 1628.0 405.9 1628.3 409.2 1629.0 407.6 1628.9 405.0 1629.7 400.4 1629.7 399.6 1630.6 397.0 1631.1 401.2 1630.8 400.9 1631.8 411.7 1632.2 405.7 1631.9 409.8 1632.1 411.0 1632.4 413.1 1633.1 417.4 1633.4 418.7 1633.5 426.0 1634.0 424.3 1634.9 422.6 1635.0 420.1 1635.8 417.3 1636.3 413.8 1636.0 412.9 1636.4 415.0 1637.4 407.2 1637.5 408.7 1638.1 417.3 1638.2 414.6 1638.3 417.1 1638.3 418.1 1638.9 422.9 1639.7 420.0 1639.9 428.8 1639.8 427.1 1640.2 431.2 1640.6 429.2 1640.9 424.9 1641.0 424.4 1640.8 421.4 1640.7 419.1 1641.1 417.0 1641.7 412.5 1641.7 406.1 1641.9 412.6 1641.8 401.6 1642.3 404.7 1642.5 400.4 1643.3 402.8 1643.0 409.4 1643.8 409.3 1644.1 413.1 1645.0 414.6 1645.2 416.0 1645.2 415.4 1646.0 420.9 1645.8 421.8 1645.9 426.3 1646.3 429.5 1647.2 429.1 1646.6 432.0 1647.5 432.4 1647.8 439.4 1647.2 445.1 1647.7 444.0 1648.6 440.5 1648.3 448.2 1649.5 441.8 1649.4 445.9 1650.9 436.3 1651.1 438.0 1651.1 434.4 1651.8 433.8 1652.3 426.6 1652.2 434.7 1652.6 426.5 1652.9 422.9 1653.7 421.7 1653.8 423.6 1653.8 413.4 1654.5 414.1 1654.8 420.9 1655.3 414.9 1656.0 416.3 1655.8 425.3 1655.9 422.5 1656.5 427.9 1656.6 432.6 1657.7 436.2 1657.9 439.8 1657.9 438.0 1658.4 439.2 1658.3 440.0 1658.1 429.4 1658.8 427.4 1659.1 423.7 1658.7 423.3 1659.4 421.1 1659.1 419.9 1659.3 414.7 1659.3 413.0 1659.6 410.7 1660.2 419.3 1659.8 419.2 1660.5 419.3 1660.7 419.6 1661.0 425.0 1661.5 431.1 1661.4 427.4 1662.4 426.5 1662.1 432.0 1662.4 435.3 1663.0 438.0 1663.4 435.6 1663.6 434.4 1663.2 428.5 1663.6 431.6 1664.3 421.0 1663.8 423.3 1664.7 420.7 1664.9 422.4 1664.8 414.1 1664.9 415.2 1665.3 418.3 1665.1 421.5 1665.5 424.1 1666.1 426.2 1666.0 429.5 1666.7 432.7 1666.5 431.8 1666.8 436.6 1667.2 439.6 1667.5 440.9 1667.5 444.8 1667.9 441.3 1667.8 439.3 1668.3 436.2 1668.1 434.4 1668.5 434.1 1669.3 429.2 1669.4 426.1 1669.6 421.4 1669.7 417.7 1669.9 421.4 1671.0 417.9 1670.5 416.6 1671.3 412.8 1671.4 409.2 1671.6 407.2 1672.0 409.9 1672.9 411.9 1673.2 410.0 1673.5 419.0 1673.4 419.3 1673.8 424.1 1674.9 427.8 1675.0 427.8 1676.6 427.2 1678.4 424.3 1678.3 427.1 1679.0 428.4 1679.2 436.6 1679.9 440.6 1680.1 442.2 1679.8 440.3 1680.9 440.2 1681.1 442.8 1681.5 447.5 1681.2 449.0 1681.8 451.7 1683.4 447.2 1683.8 448.4 1685.2 444.8 1686.1 446.3 1687.2 448.7 1688.1 453.3 1688.7 455.1 1688.6 452.9 1689.0 449.8 1689.8 449.3 1690.0 444.0 1690.0 442.3 1691.0 439.6 1690.5 438.8 1691.4 435.7 1691.5 434.4 1691.6 429.4 1692.1 427.8 1692.1 428.8 1692.5 432.1 1692.2 434.3 1692.5 439.5 1692.6 441.7 1693.3 444.1 1693.0 441.4 1693.2 448.8 1693.6 449.9 1693.7 452.5 1693.8 454.6 1694.7 459.1 1694.8 461.1 1694.9 462.5 1694.4 465.9 1694.7 468.3 1695.6 471.7 1695.4 473.7 1695.5 475.6 1697.5 472.6 1698.9 472.2 1699.2 469.7 1700.4 468.9 1701.1 464.7 1701.6 458.0 1701.8 458.0 1703.2 454.4 1703.5 455.6 1704.0 451.7 1704.1 453.7 1704.8 462.9 1705.2 460.4 1705.6 463.7 1705.9 465.3 1706.4 471.1 1707.4 469.1 1707.5 472.2 1708.0 469.7 1709.1 474.8 1710.0 483.0 1710.8 482.0 1711.8 485.0 1712.6 485.8 1712.5 482.2 1713.0 481.6 1713.5 477.8 1714.3 475.1 1714.0 475.0 1714.1 470.8 1714.6 468.1 1715.3 467.4 1715.6 463.4 1715.6 462.2 1716.0 458.5 1716.6 462.2 1716.8 463.4 1716.8 464.7 1717.1 463.8 1717.8 470.0 1718.0 473.1 1718.6 481.0 1718.5 479.7 1719.2 478.9 1719.4 482.4 1719.8 481.6 1721.4 481.9 1721.5 474.4 1722.8 472.2 1723.2 475.4 1723.4 477.2 1723.9 479.5 1724.8 482.8 1725.3 489.5 1725.5 488.6 1726.2 489.2 1727.5 490.8 1729.5 492.9 1730.3 496.1 1730.2 492.9 1730.6 496.1 1731.5 488.0 1731.7 485.6 1731.8 481.7 1731.4 479.7 1732.2 477.3 1731.8 473.8 1732.4 474.7 1732.6 467.8 1733.0 468.4 1733.1 465.3 1733.5 468.3 1734.3 469.2 1735.6 475.0 1736.3 476.7 1736.5 479.0 1736.8 471.3 1738.1 471.8 1738.6 472.0 1738.8 468.2 1739.9 465.3 1743.3 465.3 1744.6 463.9 1744.8 461.5 1745.6 455.9 1746.8 455.1 1746.9 456.6 1747.3 458.3 1748.1 468.3 1748.7 461.3 1748.4 471.2 1748.6 471.3 1749.6 466.7 1749.5 480.7 1750.2 476.3 1750.2 478.8 1750.8 482.4 1750.8 483.1 1751.9 481.4 1751.9 474.8 1752.4 473.5 1753.1 468.8 1753.3 467.1 1753.1 467.5 1754.0 460.5 1753.7 460.7 1754.9 456.8 1755.0 453.6 1755.3 451.7 1756.5 448.6 1758.2 446.2 1760.4 444.8 1761.0 441.1 1762.1 435.3 1762.5 437.2 1763.8 434.6 1765.8 432.4 1767.0 431.7 1769.0 427.8" stroke="#0000ff" stroke-width="3.2" fill="none" stroke-linejoin="round" stroke-linecap="butt"/>
<clipPath id="cbl"><rect x="250" y="643.6" width="704.5" height="436.4"/></clipPath>
<path clip-path="url(#cbl)" d="M595.5 939.4 595.7 938.2 596.0 933.9 596.4 933.4 596.5 931.4 597.6 932.4 597.6 925.0 597.9 921.5 598.6 919.8 598.5 912.0 599.4 911.6 599.6 905.1 600.4 909.8 600.2 906.6 602.1 904.0 603.4 907.5 604.7 898.8 605.1 895.1 604.9 889.6 606.0 892.8 606.5 893.0 606.8 885.7 606.4 888.0 607.3 880.6 607.3 877.8 607.6 873.4 607.9 871.1 608.0 870.4 608.1 866.4 608.3 864.5 608.9 866.1 609.1 859.4 611.2 862.0 611.0 861.0 611.2 855.8 611.7 852.9 612.5 846.0 612.2 850.2 612.6 846.2 612.6 847.9 613.1 849.7 613.0 849.1 613.6 856.4 614.1 860.3 613.9 862.0 613.9 866.3 615.0 870.8 614.6 870.0 615.7 872.2 615.3 873.4 616.0 877.8 616.5 873.8 616.5 878.8 616.3 869.9 615.9 868.8 616.1 864.8 616.4 862.1 616.3 864.4 616.6 858.2 616.3 857.1 616.5 851.2 616.1 851.2 616.4 847.2 616.5 842.3 616.6 836.4 617.2 845.6 616.5 832.9 617.0 836.3 616.5 831.5 616.6 833.7 617.0 827.9 617.7 829.4 617.4 828.4 617.5 837.1 617.6 838.2 617.6 846.5 617.8 845.0 618.6 847.4 618.1 854.5 618.6 851.5 618.6 854.1 618.8 852.4 619.0 847.7 618.3 845.3 619.0 845.5 618.5 840.3 618.3 843.4 618.8 835.6 619.3 835.4 618.5 830.8 619.2 829.7 619.1 824.6 619.0 823.2 618.8 825.8 618.5 813.2 619.4 816.3 618.8 816.2 618.8 812.7 619.4 812.1 619.3 805.6 619.6 803.7 619.6 798.9 619.1 799.8 619.3 798.2 619.5 797.1 619.7 792.4 619.0 790.2 619.3 787.4 619.7 787.6 619.0 782.0 619.1 782.3 619.5 778.4 619.8 775.0 619.8 773.9 619.1 772.8 619.6 772.0 619.9 765.6 619.7 757.8 619.3 766.2 619.3 761.0 619.7 752.5 619.6 754.4 619.7 756.1 619.7 758.2 619.5 763.9 619.4 768.4 619.9 766.4 620.4 766.9 620.3 766.3 619.6 778.7 620.1 778.7 619.8 782.3 619.8 785.6 619.9 783.8 619.9 784.0 620.3 792.9 620.6 788.9 620.7 790.3 620.1 794.4 620.9 796.2 620.2 801.1 620.9 801.6 620.3 803.8 621.1 806.4 620.3 813.5 621.0 811.6 620.6 813.0 620.8 817.1 620.9 825.5 621.2 820.9 620.4 824.7 620.6 825.2 621.1 828.1 620.6 836.4 621.1 834.9 621.5 836.0 621.1 838.9 621.2 841.0 621.9 842.0 622.1 847.2 622.2 847.9 621.9 852.4 622.2 854.6 622.0 854.8 622.5 862.3 622.5 861.0 623.2 862.8 623.1 865.9 622.8 858.2 623.0 860.0 623.3 859.2 623.4 855.8 623.4 855.3 623.1 848.7 623.8 848.9 623.7 846.1 623.5 848.0 624.1 841.7 623.7 837.0 624.2 830.2 624.4 840.3 624.4 833.0 623.7 830.4 624.1 825.8 624.1 823.4 624.5 823.4 624.7 815.5 623.9 817.4 624.4 814.8 624.7 812.6 624.9 811.1 624.8 808.5 624.6 803.7 624.4 805.5 624.5 800.8 625.1 799.0 624.3 796.4 624.3 791.1 625.0 789.0 625.0 782.1 624.6 785.6 624.8 782.4 625.3 781.5 625.3 777.8 625.3 774.0 624.6 772.3 625.5 764.9 625.2 773.5 625.5 766.2 625.0 762.0 625.2 760.8 625.2 758.1 625.8 754.2 625.7 752.5 625.2 745.8 625.8 746.6 625.1 747.0 625.1 739.2 626.1 736.7 625.6 734.9 626.1 736.8 625.7 733.4 625.5 737.3 626.1 744.5 625.6 738.9 626.1 743.2 626.3 746.6 626.4 746.8 626.2 753.3 625.6 752.4 626.5 756.6 626.1 756.1 626.6 760.0 626.4 761.6 626.5 763.9 626.8 768.3 626.4 771.5 626.1 772.5 626.3 775.3 626.2 777.2 626.7 783.3 626.4 782.5 626.8 789.8 627.1 787.1 626.4 793.2 627.1 796.7 626.5 792.5 626.6 796.5 627.0 799.0 626.6 796.0 627.3 792.8 627.5 790.7 627.2 789.2 627.3 787.5 627.2 780.0 627.7 783.1 627.2 780.1 627.9 776.1 627.7 776.0 627.7 770.7 628.1 770.7 627.5 771.6 627.5 772.3 627.9 766.9 627.8 765.2 627.5 758.7 628.3 758.8 627.6 746.7 628.5 744.5 628.0 748.7 628.2 744.6 628.1 737.6 628.1 742.5 627.8 737.5 628.3 736.0 628.8 740.0 628.8 741.4 628.4 736.2 628.5 741.5 628.5 744.9 628.2 750.5 628.8 755.0 629.1 754.7 629.2 759.3 629.0 758.7 629.3 764.0 628.9 763.4 629.0 766.8 629.2 770.6 629.1 771.1 629.3 778.7 629.5 779.9 628.9 778.2 629.4 782.9 629.8 784.3 629.7 787.3 629.4 792.0 629.6 787.7 629.6 793.8 630.0 793.0 629.4 789.6 629.5 790.5 629.9 779.4 630.6 780.2 630.6 778.4 630.4 775.6 630.6 776.0 630.7 776.6 630.2 770.6 631.0 771.1 630.9 764.9 631.2 765.8 630.7 769.3 631.3 770.5 630.8 778.2 630.8 784.4 630.9 778.5 631.7 780.4 630.8 783.9 631.0 786.8 631.0 788.7 631.7 786.2 631.1 795.1 631.0 790.6 631.8 799.9 632.0 799.1 631.8 802.4 631.2 805.2 631.5 804.9 631.8 809.8 631.8 815.6 631.8 815.8 631.4 818.0 632.2 821.6 631.9 819.7 632.0 829.6 631.9 823.9 632.5 833.2 632.5 828.3 632.4 834.7 631.7 837.1 632.2 841.0 632.6 837.1 632.1 836.5 632.3 835.0 633.1 824.4 633.0 830.4 632.5 826.3 633.2 823.4 632.6 820.2 633.4 821.0 632.9 816.7 633.4 813.4 633.6 817.3 633.6 809.5 634.1 813.5 634.0 801.6 634.0 796.7 633.3 799.5 634.3 798.1 633.8 795.3 633.8 792.1 633.5 789.5 633.9 783.0 634.5 783.8 634.3 782.2 634.1 785.4 633.9 778.3 634.3 774.3 634.8 774.4 634.6 771.5 634.5 767.4 634.5 769.3 634.9 763.0 634.3 764.7 635.2 754.2 634.5 755.1 634.7 754.0 634.9 751.8 636.0 753.5 636.4 758.3 636.7 759.6 636.8 763.6 636.9 764.0 636.8 770.2 636.9 772.9 636.6 771.4 637.2 773.3 637.1 777.9 637.6 779.7 637.1 781.9 637.4 783.8 637.2 786.8 637.8 787.9 637.6 789.8 637.6 793.1 637.4 800.4 637.6 798.3 637.4 801.9 638.0 804.2 637.9 804.3 638.1 809.4 637.5 805.8 638.4 813.3 638.5 811.7 637.9 817.9 638.2 820.9 638.0 821.9 638.3 825.2 638.4 822.1 638.6 836.5 639.2 832.5 639.2 835.1 639.4 835.3 639.4 841.3 639.5 844.3 640.0 845.5 640.0 844.5 640.1 851.5 640.3 853.5 641.1 855.4 640.4 860.3 641.3 867.4 641.4 864.6 644.1 864.6 644.1 866.0 644.0 869.3 644.7 866.1 644.8 874.0 645.2 878.7 645.3 878.9 645.9 886.6 646.1 891.7 645.9 888.2 645.8 889.9 645.6 882.9 646.2 880.1 646.4 883.0 646.6 877.0 645.8 871.1 646.2 872.1 646.3 868.0 646.6 868.1 646.4 863.1 646.9 859.6 646.4 857.0 646.0 854.9 646.4 854.1 646.3 851.5 646.8 847.8 646.6 845.4 646.4 844.1 646.3 839.7 647.1 837.8 647.3 836.1 646.7 834.4 646.7 833.1 647.4 824.4 647.0 826.2 647.2 830.4 646.7 822.2 647.5 818.4 647.1 820.7 647.6 815.1 647.4 811.2 647.0 806.3 647.5 806.9 647.2 808.8 647.7 806.2 647.6 809.1 647.3 815.8 648.0 820.5 648.3 822.2 647.7 825.8 648.0 832.9 647.9 832.2 648.0 828.5 648.1 836.6 648.2 837.1 648.7 839.0 647.9 840.6 648.3 851.0 648.4 848.4 648.2 845.9 648.8 853.5 648.7 854.9 648.2 857.5 649.0 859.5 648.8 862.0 648.7 858.8 649.1 856.2 649.1 855.7 649.2 850.1 649.9 847.1 649.2 844.9 649.6 847.5 650.0 839.5 650.1 838.4 651.9 841.0 652.2 845.2 652.2 845.1 652.5 847.0 652.3 852.2 652.7 855.3 652.1 852.5 652.6 856.8 652.4 862.3 652.8 870.6 652.9 860.1 652.9 872.3 652.5 875.2 652.8 872.2 653.2 871.2 652.9 879.9 653.1 882.6 653.6 884.9 653.8 887.5 653.3 894.2 653.5 890.6 653.6 893.6 653.8 896.1 653.9 895.0 654.2 890.6 654.3 889.2 654.4 888.8 654.8 882.6 654.5 883.0 654.2 879.0 654.2 882.3 654.6 876.1 654.5 872.4 654.8 867.5 654.9 871.7 655.7 863.6 655.7 859.8 655.6 860.5 655.9 857.8 655.7 852.7 655.7 849.8 655.9 848.9 656.4 851.5 656.1 852.0 656.8 856.9 656.9 858.1 657.0 859.8 657.3 863.4 657.6 860.3 657.2 868.5 657.9 869.3 657.6 873.7 658.1 877.5 658.0 877.8 658.3 873.5 658.3 871.6 659.1 874.3 659.1 868.6 658.8 864.4 659.3 862.5 659.8 855.7 660.0 858.2 660.0 852.3 660.1 851.5 660.7 859.4 661.6 856.8 661.8 853.0 662.9 845.3 662.4 850.4 663.2 846.2 663.9 849.2 663.5 850.8 663.7 852.7 664.0 855.8 664.2 857.8 664.8 863.4 664.8 864.6 665.1 863.1 665.2 864.3 665.8 855.5 665.4 857.7 665.7 851.9 665.6 848.1 665.7 843.5 666.4 843.6 667.0 846.3 667.5 850.0 668.2 848.2 668.5 854.1 669.2 851.6 669.5 847.6 669.7 845.0 670.3 843.6 670.8 840.0 670.2 837.2 671.0 835.3 670.6 832.1 670.9 829.8 670.5 828.7 670.6 830.5 671.2 823.7 671.2 821.8 671.6 814.0 670.9 815.8 671.2 813.7 671.8 813.2 671.6 809.5 672.0 808.0 672.3 803.9 671.7 803.8 672.3 801.8 672.1 796.7 672.1 796.3 672.0 794.1 672.5 789.2 672.8 788.5 673.2 785.4 672.6 784.6 672.9 780.6 673.0 781.7 672.6 787.3 673.2 788.6 672.9 791.1 673.1 789.1 673.4 797.8 673.2 796.3 673.4 805.2 673.0 797.2 673.4 806.4 673.5 808.2 673.9 809.4 673.5 813.9 673.5 818.0 674.0 817.2 673.1 819.3 673.9 816.3 673.8 825.7 673.8 828.5 673.9 829.4 674.0 832.0 674.4 833.8 673.7 838.1 674.3 838.5 673.8 843.2 674.5 847.4 673.8 847.4 673.9 848.7 674.2 852.7 674.2 854.1 673.9 851.1 674.1 850.3 675.0 849.6 674.1 846.2 674.9 843.3 675.2 839.3 674.6 838.1 675.2 832.8 675.2 830.2 674.9 830.8 674.9 828.5 675.0 826.3 675.0 823.8 675.8 820.1 675.8 812.7 675.6 814.8 676.1 809.6 676.1 810.7 676.3 807.2 676.2 805.1 676.9 801.6 677.1 805.8 677.2 805.0 677.0 807.6 677.1 810.5 676.8 814.6 677.2 817.3 677.1 819.5 677.4 826.5 677.9 822.5 678.1 827.8 678.0 828.3 677.6 831.6 678.3 838.3 677.9 837.3 677.9 839.1 678.2 839.6 677.8 844.1 678.2 846.2 678.1 842.2 678.6 841.3 678.5 837.3 678.3 836.2 678.1 839.3 678.2 830.4 678.8 830.1 678.4 827.7 679.3 822.6 678.6 826.9 678.6 820.5 679.5 816.0 678.8 812.4 679.2 812.5 679.3 804.1 679.1 807.9 679.5 804.2 679.6 801.6 679.5 810.3 680.0 815.0 679.9 810.1 679.9 817.7 679.9 819.5 679.8 815.5 680.1 822.1 680.2 826.5 680.3 830.0 680.1 826.4 680.6 838.8 680.2 835.1 680.4 840.2 680.8 841.0 681.6 838.5 681.8 835.1 682.4 826.4 682.3 829.7 682.6 827.9 682.4 821.2 683.3 818.4 682.8 824.9 682.9 813.2 683.5 815.9 683.9 812.7 683.2 812.1 683.9 808.8 683.7 806.5 684.1 803.5 684.5 801.4 684.2 799.0 684.3 805.4 684.2 805.1 685.0 807.4 685.1 813.3 684.7 817.3 685.3 814.7 685.4 812.7 685.4 822.8 685.3 821.0 685.7 822.8 686.1 825.0 686.1 828.4 685.7 829.8 686.1 833.1 686.1 825.4 686.7 828.2 686.3 823.9 687.3 826.8 687.1 821.5 686.9 815.7 687.6 814.7 687.1 816.1 687.9 811.2 687.9 806.9 688.3 804.1 688.4 800.3 688.6 799.9 688.2 801.4 688.8 793.8 688.2 794.1 689.2 790.1 689.0 786.7 688.6 782.2 689.6 783.5 689.6 780.4 689.4 778.6 689.5 775.4 689.2 780.9 689.3 782.2 690.3 784.4 690.1 786.8 690.5 784.3 690.1 790.3 690.2 791.1 689.9 796.0 690.1 796.1 690.4 800.5 690.4 803.7 690.7 806.7 690.5 805.9 691.3 811.4 690.7 811.1 691.1 809.0 691.3 817.4 691.2 816.1 691.8 810.7 692.1 809.0 691.4 800.8 692.0 809.9 692.5 799.4 691.8 794.7 692.5 799.4 692.0 794.7 692.5 791.3 692.6 793.7 692.7 789.1 693.2 787.7 693.2 783.3 692.6 780.9 693.1 778.0 693.6 781.5 693.1 771.9 693.5 764.3 693.9 770.0 694.1 762.3 693.6 763.2 693.9 760.5 693.9 758.5 693.5 751.2 694.0 753.7 693.9 744.7 694.3 745.5 694.2 746.6 694.2 742.9 694.4 739.4 694.4 738.7 694.7 736.6 694.7 733.4 696.1 723.9 696.6 728.1 698.4 726.8 698.2 731.0 698.3 730.6 698.4 735.4 698.6 738.2 699.1 737.7 698.3 745.6 699.2 744.0 699.3 747.9 698.5 750.5 699.3 753.0 699.3 749.3 699.3 756.0 699.0 758.1 699.0 760.9 699.8 762.7 699.4 772.2 699.2 769.7 699.4 771.9 699.6 771.9 699.6 774.9 699.4 783.8 699.5 785.2 699.6 779.2 700.0 785.9 700.5 782.7 700.8 782.0 701.0 778.2 701.2 780.4 702.0 773.2 701.8 770.1 701.5 773.8 702.0 775.5 702.2 776.3 702.2 778.2 701.8 781.5 702.6 783.4 702.4 790.6 703.1 792.1 702.5 793.2 703.2 792.6 703.1 797.5 703.3 799.4 703.1 801.6 703.7 799.0 703.3 796.8 703.9 794.2 703.8 798.0 703.6 788.5 704.5 784.8 704.4 783.2 704.6 787.7 704.6 788.4 704.6 786.0 705.7 793.0 705.2 795.1 706.0 797.2 705.7 801.2 705.8 804.4 706.0 800.9 706.3 809.5 705.9 802.9 706.3 809.0 706.7 800.6 706.5 803.9 706.8 798.2 707.3 795.9 707.0 793.4 706.9 791.4 707.3 786.3 706.9 783.0 707.6 783.5 707.6 779.9 707.5 781.3 707.5 774.1 707.9 771.6 708.1 769.4 707.9 767.5 707.6 766.9 708.1 771.4 707.7 774.9 708.1 775.9 708.0 783.5 708.5 785.8 708.5 781.0 708.4 782.2 708.3 790.0 708.5 791.6 708.4 800.8 708.5 797.6 708.3 798.1 707.9 800.1 708.4 803.7 708.9 807.5 708.9 806.4 708.5 812.1 709.0 816.5 708.7 815.1 709.1 817.7 708.6 820.7 709.0 821.6 708.3 820.2 708.7 829.6 708.7 829.9 708.5 831.0 709.3 835.6 708.5 834.0 709.3 840.9 709.4 843.7 709.0 843.8 708.6 848.4 708.8 849.0 708.9 857.6 708.7 853.6 709.1 853.0 709.2 859.4 708.9 855.9 709.8 853.7 709.0 851.8 709.2 848.6 709.9 846.6 710.1 844.1 709.5 840.3 710.3 838.7 710.2 836.2 709.9 841.7 710.3 832.9 710.3 828.8 710.2 828.0 710.3 826.0 710.2 817.2 710.5 822.0 710.9 818.1 711.4 814.8 711.0 812.1 711.6 813.2 711.7 817.2 711.3 819.8 712.1 824.2 712.6 826.0 711.9 828.0 712.4 830.9 713.1 827.4 713.1 835.8 713.7 833.2 713.3 832.3 713.1 828.5 713.4 830.2 713.8 822.0 714.0 822.9 714.7 825.9 714.2 815.9 714.8 808.4 714.6 805.7 714.3 808.5 714.9 806.9 715.0 804.8 715.6 803.2 715.8 797.2 716.4 797.0 716.7 793.3 716.9 792.4 717.6 788.5 717.5 784.6 718.2 799.4 718.0 797.1 718.0 800.9 717.8 798.1 717.8 801.2 718.3 805.5 718.0 806.2 718.4 806.5 717.9 813.4 717.8 819.5 718.1 817.0 717.8 821.0 718.0 823.3 718.7 825.0 718.3 822.2 718.4 826.0 718.6 831.6 718.7 834.2 718.1 838.6 718.2 840.5 718.5 835.3 719.1 845.7 718.8 846.3 719.3 848.8 718.9 851.5 718.7 847.3 719.1 846.8 718.8 843.5 718.8 841.9 719.4 840.5 719.5 837.5 719.1 835.4 719.8 833.3 719.3 830.9 720.0 825.2 720.0 825.7 720.2 823.4 720.0 818.1 719.6 821.4 720.4 815.6 719.9 812.8 720.1 807.8 720.2 806.9 720.4 808.4 720.0 812.2 720.0 812.9 720.3 817.0 720.3 818.5 720.3 822.6 720.8 824.8 720.1 827.1 720.1 829.4 721.0 830.7 720.5 835.4 720.7 836.4 720.6 837.2 720.7 839.5 720.4 843.6 720.7 845.7 721.0 849.6 721.1 850.7 720.4 858.8 720.9 851.8 720.8 857.9 720.5 865.4 721.3 862.4 721.3 869.2 721.2 867.2 721.2 869.5 721.3 878.1 720.9 874.1 721.1 877.5 720.8 877.3 721.6 885.2 721.4 883.9 721.8 889.8 721.1 888.2 721.4 888.4 721.5 893.5 722.3 897.4 723.1 900.3 723.6 901.4 723.8 897.4 724.1 897.1 723.6 894.9 724.1 886.4 724.2 890.7 724.3 883.9 725.1 884.9 725.0 883.6 725.2 883.5 725.5 877.8 724.8 875.6 725.4 872.5 725.9 870.4 726.0 868.3 725.9 861.7 725.3 862.4 725.9 861.1 726.3 858.2 725.5 856.3 725.9 853.9 725.7 850.1 726.5 847.9 726.3 849.4 726.1 843.2 726.4 835.9 726.7 836.5 726.5 835.9 725.9 837.7 726.1 828.1 726.6 827.3 726.7 823.5 726.7 823.5 726.8 820.0 726.8 822.5 727.6 829.7 728.0 826.2 728.2 831.7 728.1 830.5 728.4 835.0 728.9 838.4 729.6 834.2 730.2 843.7 730.8 846.2 731.2 844.7 731.1 852.8 731.5 851.8 731.3 857.6 730.9 865.7 731.8 862.6 731.3 863.4 731.5 869.6 731.9 868.2 732.3 869.5 732.4 873.2 732.1 876.6 732.2 879.1 732.2 882.2 732.6 883.0 733.0 884.6 733.4 888.7 732.7 892.1 733.5 893.8 733.1 895.7 734.0 893.9 733.9 901.4 735.2 903.9 736.6 906.6 739.2 904.0 740.3 911.5 741.8 910.6 744.4 909.2 744.6 908.0 744.3 903.5 744.3 902.7 744.4 899.3 744.4 895.7 745.0 894.8 744.4 892.8 745.2 888.3 744.9 886.6 745.5 885.8 745.2 882.3 744.8 878.8 744.9 877.8 745.5 879.6 745.1 874.0 745.4 866.3 745.4 869.8 745.8 864.6 745.9 861.4 745.7 862.2 746.1 853.8 745.9 856.0 745.7 852.6 746.3 850.2 746.6 848.5 746.3 846.2 746.6 847.4 746.1 851.6 746.9 854.8 746.4 854.6 746.4 857.0 746.6 864.7 746.8 864.3 746.6 867.2 747.4 865.4 747.1 871.8 747.4 874.4 747.5 875.3 747.7 880.5 747.1 885.9 747.6 885.2 747.6 887.6 748.0 887.8 748.1 884.3 748.1 890.5 747.8 899.8 748.0 904.3 748.4 901.4 748.9 898.9 748.6 894.8 748.2 892.4 748.4 890.4 748.9 890.0 748.8 886.0 748.7 884.5 749.1 878.2 749.0 876.2 749.1 877.3 749.3 875.3 749.0 864.8 749.6 867.3 749.2 862.0 749.8 864.0 749.2 860.9 749.9 863.3 749.4 857.8 749.8 855.6 749.2 850.2 749.7 848.9 752.3 851.5 751.9 852.6 752.8 859.7 752.5 860.8 752.3 859.9 753.1 862.7 753.4 865.0 753.5 874.6 753.1 868.9 753.0 875.3 753.2 872.2 753.0 880.5 753.0 882.0 754.1 885.2 753.2 887.3 753.7 888.9 754.2 892.7 753.8 893.0 754.1 896.4 754.1 898.8 754.5 896.5 754.7 893.4 754.3 893.1 754.4 887.2 754.7 885.9 755.0 883.5 755.1 878.4 755.4 878.1 755.6 877.8 756.2 876.4 756.0 873.0 756.2 869.9 756.4 872.7 756.2 874.0 756.6 878.5 757.2 873.4 757.1 881.4 757.3 882.2 756.9 887.1 757.4 884.1 757.6 892.0 757.4 892.8 758.4 898.1 758.1 898.8 757.7 897.3 758.2 887.5 758.0 892.4 758.6 886.2 758.7 885.4 758.6 887.4 758.5 881.8 758.4 879.2 758.6 875.7 759.2 874.1 758.8 866.5 759.4 869.5 759.4 867.5 759.6 864.0 759.4 862.0 759.3 859.6 759.7 855.8 759.5 859.6 759.1 855.4 759.9 849.5 759.5 847.9 759.1 845.0 760.1 844.1 759.4 840.2 759.7 836.9 760.0 835.4 759.8 834.2 759.8 835.5 759.7 829.0 759.9 830.6 760.4 823.0 759.5 822.6 760.1 815.1 760.1 816.4 759.8 811.4 759.8 809.0 759.8 809.7 760.6 806.0 760.1 804.8 760.4 800.6 760.5 791.9 759.8 797.5 760.0 793.3 760.8 791.7 760.0 790.1 760.2 787.1 760.8 778.1 760.5 783.4 760.3 779.3 760.6 775.8 760.9 772.6 760.9 771.4 760.6 768.4 761.0 769.5 760.3 765.7 760.5 763.1 760.4 765.1 761.1 755.7 761.0 754.9 760.8 751.6 761.0 744.8 761.0 749.1 760.4 744.1 761.3 743.2 761.4 735.1 761.0 738.6 761.3 742.6 760.8 745.3 761.5 747.0 761.1 748.4 761.0 752.6 761.8 752.3 761.4 756.2 762.1 759.6 761.9 761.9 762.0 762.0 761.9 767.1 762.4 767.5 762.4 771.7 762.6 772.6 762.4 775.7 762.1 779.2 762.4 774.4 762.2 780.5 762.7 784.7 762.3 788.8 762.3 792.7 762.8 793.8 763.1 795.5 763.0 788.8 763.4 784.9 763.5 785.6 763.6 780.0 763.0 785.0 763.8 773.2 763.3 772.6 763.5 771.4 764.0 774.5 763.8 761.8 763.9 766.1 764.0 764.1 764.4 758.3 764.1 757.0 764.9 759.9 766.2 762.2 766.7 764.4 766.7 766.0 766.5 765.2 766.1 775.4 766.0 773.4 766.7 778.4 766.1 778.0 766.9 779.6 766.5 785.6 766.8 786.5 766.2 787.5 767.1 790.7 767.1 789.6 766.4 802.5 767.0 798.7 767.0 808.5 766.5 803.6 767.1 813.8 767.4 806.1 767.3 812.8 766.9 813.9 766.9 819.4 767.6 820.4 767.1 816.2 767.5 825.3 767.5 830.7 767.6 829.7 767.5 829.6 767.1 834.9 767.3 835.3 767.9 837.8 767.3 840.7 767.7 838.0 767.9 847.2 767.3 847.6 767.5 850.7 767.6 855.8 767.3 856.5 767.8 857.2 768.1 860.1 768.3 862.5 768.3 864.0 768.2 865.8 767.6 866.1 768.1 872.5 767.9 865.8 768.3 868.9 767.8 866.3 768.4 863.0 768.0 859.8 768.5 858.9 767.9 853.5 768.2 849.7 768.5 850.2 768.5 849.6 768.8 849.2 768.5 849.3 769.1 840.0 768.9 843.1 769.2 835.5 768.4 834.8 768.5 831.1 769.2 827.6 768.9 832.8 769.0 823.9 769.4 820.3 768.8 820.1 769.1 816.0 768.9 814.8 769.3 816.4 769.0 813.1 768.8 806.7 768.9 803.7 769.7 794.9 769.5 798.6 769.8 799.4 769.4 793.8 769.4 796.5 769.7 798.8 769.6 800.9 769.7 802.4 769.4 807.0 770.0 811.3 770.4 811.1 770.0 811.9 770.3 815.4 770.3 819.1 770.0 820.7 770.7 823.6 770.1 824.4 770.8 826.9 770.0 834.2 770.7 835.2 770.7 837.5 770.5 837.6 770.7 841.0 770.8 840.3 770.7 835.8 771.2 832.5 771.3 830.3 771.1 827.0 770.5 825.0 771.0 827.6 770.9 828.1 771.3 817.5 771.5 817.8 771.6 808.5 771.4 809.9 771.0 814.7 771.6 800.0 771.6 808.5 771.1 802.3 771.9 794.2 771.8 797.2 771.2 795.0 771.2 790.3 771.6 791.1 771.7 786.6 771.9 786.4 772.2 782.3 771.4 779.5 771.7 776.9 771.9 776.4 771.5 770.7 772.0 769.8 772.0 767.5 772.0 772.0 772.6 772.4 772.6 778.9 772.5 781.6 772.1 780.2 772.2 781.4 772.4 783.0 772.9 789.1 773.2 790.1 772.4 791.2 772.8 796.0 773.2 797.7 772.7 800.9 773.1 808.9 773.6 811.2 773.3 806.9 773.8 804.4 773.7 800.6 773.4 798.8 773.4 800.1 773.3 793.6 773.3 790.7 773.5 790.7 774.2 785.9 773.7 779.9 773.7 784.1 773.9 780.7 774.1 777.1 773.9 776.6 774.2 776.2 774.5 771.8 774.7 768.4 774.1 764.1 775.0 764.1 774.9 756.5 774.4 756.7 775.2 756.4 774.6 752.2 775.2 748.5 775.0 750.2 775.5 744.7 775.5 751.1 775.1 741.2 775.7 743.5 775.5 743.0 775.2 747.9 775.0 752.5 775.8 755.3 775.1 755.6 775.3 759.5 775.3 761.3 775.3 761.9 776.3 767.0 775.7 767.8 775.7 769.4 775.9 768.8 776.4 776.6 776.6 784.0 776.2 787.1 776.3 783.3 776.1 786.4 776.8 788.8 776.4 785.2 777.0 794.0 776.9 795.0 777.1 796.5 776.6 800.1 777.0 799.0 776.5 804.7 776.7 806.9 777.3 811.1 777.4 811.8 777.3 816.7 777.0 821.6 777.2 820.0 777.5 822.2 777.7 823.2 778.0 828.6 777.3 831.0 777.6 832.4 777.7 835.6 777.7 838.6 777.4 837.8 777.9 838.4 778.5 843.5 778.1 846.9 778.2 852.7 777.9 852.9 778.0 854.9 778.4 855.0 778.2 858.1 778.3 861.2 778.3 857.9 778.7 864.9 778.7 863.2 778.4 872.4 778.8 873.0 779.0 879.4 778.9 878.7 778.8 881.3 779.4 884.6 779.4 885.6 780.2 890.0 780.1 884.6 780.4 892.3 780.8 897.3 781.2 898.8 781.1 894.7 781.2 894.9 781.8 892.5 781.4 889.2 781.7 884.7 782.5 884.0 782.5 881.2 782.5 877.8 782.4 881.8 783.0 879.8 783.1 886.4 782.7 887.6 783.4 890.9 783.2 898.6 783.9 889.3 783.9 896.1 783.6 898.7 783.6 899.9 783.9 903.7 784.3 908.6 784.3 909.2 784.9 905.5 785.0 905.9 785.0 900.2 784.7 902.5 785.0 894.1 785.3 896.3 785.2 892.4 785.0 895.8 785.2 884.0 785.4 885.0 785.5 882.1 785.7 883.6 786.3 879.0 786.3 870.6 786.0 874.0 786.4 869.9 786.5 871.2 786.8 876.0 786.4 875.9 787.3 879.7 786.8 882.7 787.2 884.0 788.0 886.7 787.2 888.8 788.2 891.2 788.0 894.9 788.1 897.7 788.3 898.8 789.7 894.6 790.4 893.5 791.5 895.0 793.0 898.8 794.1 901.7 794.7 892.0 795.5 890.4 795.6 888.2 796.5 890.4 796.5 895.0 798.0 901.7 798.2 898.8 799.3 901.6 799.8 903.8 800.9 906.6 801.5 905.6 802.7 911.3 803.5 914.5 804.2 908.8 805.1 909.2 805.4 910.4 806.1 904.0 806.6 905.3 806.8 908.8 806.7 912.6 806.7 916.2 807.7 921.6 807.4 919.8 809.0 919.4 810.1 925.0 810.6 927.6 811.6 929.5 811.7 938.9 812.7 935.5 816.6 932.9 820.6 935.5 820.7 933.0 822.1 941.0 822.3 943.3 823.1 945.0 822.9 947.6 824.0 951.2 824.0 952.9 825.0 952.5 825.6 957.5 825.7 960.1 826.1 960.2 826.6 967.0 827.4 969.6 828.1 970.7 829.3 973.8 829.8 977.5 830.7 979.2 832.4 972.2 833.5 973.8 834.1 977.9 835.0 980.1 835.4 983.2 836.4 990.5 837.8 987.7 838.1 990.1 838.9 993.2 841.6 990.6 842.8 989.3 844.2 985.4 845.1 989.2 845.5 992.0 846.8 993.2 848.6 1000.4 849.9 1004.3 850.8 1001.1 852.4 1004.9 853.0 1001.5 854.7 1009.0 854.7 1013.6 855.2 1005.5 855.6 1007.0 856.1 1004.3 856.3 997.6 857.0 991.5 857.3 990.6 859.9 988.0 860.2 989.8 861.3 993.5 861.8 997.6 862.6 998.5 863.6 995.6 864.1 994.5 865.4 990.4 866.5 988.0 868.9 989.0 870.4 993.2 871.5 995.4 871.6 997.7 872.6 1006.2 873.1 1003.8 873.9 1001.7 873.9 1003.7 874.6 997.5 875.7 993.2 875.7 995.5 875.8 999.0 875.9 999.0 876.7 1002.4 876.5 999.5 877.3 1009.6 877.4 1010.4 878.0 1015.0 878.2 1018.3 877.7 1018.2 878.3 1020.8" stroke="#0000ff" stroke-width="3.2" fill="none" stroke-linejoin="round" stroke-linecap="butt"/>
<clipPath id="cbr"><rect x="1095.5" y="643.6" width="704.5" height="436.4"/></clipPath>
<path clip-path="url(#cbr)" d="M1171.8 814.0 1173.6 816.7 1173.6 820.4 1173.7 820.9 1173.8 825.4 1173.7 828.2 1174.6 834.2 1174.1 830.8 1174.0 829.1 1174.7 833.8 1174.8 832.5 1174.8 841.8 1175.6 839.8 1175.4 842.8 1175.7 833.2 1175.4 827.8 1176.1 829.2 1177.5 832.8 1178.0 837.1 1178.3 842.4 1178.4 840.1 1177.8 847.5 1178.5 845.2 1178.4 845.6 1178.5 848.3 1178.6 852.6 1178.5 853.7 1178.6 856.9 1179.1 863.4 1178.7 863.5 1178.8 863.3 1179.2 865.4 1179.9 863.6 1179.5 872.8 1179.6 873.0 1180.1 874.6 1179.8 873.8 1180.2 881.2 1180.5 878.3 1180.9 877.1 1180.2 875.5 1181.1 874.9 1180.5 869.0 1181.4 866.1 1180.7 862.2 1181.6 860.0 1181.6 865.0 1181.5 856.1 1181.2 855.1 1181.4 851.1 1181.8 848.4 1181.7 850.8 1182.2 844.6 1182.0 841.8 1184.3 840.0 1184.4 844.1 1184.7 843.2 1184.3 848.2 1184.7 849.1 1185.0 849.1 1185.2 848.1 1185.9 862.2 1185.2 854.4 1185.8 862.8 1185.4 862.9 1185.7 870.0 1186.7 868.0 1186.5 866.8 1186.5 874.0 1187.0 878.1 1187.3 879.2 1187.6 887.5 1188.1 886.1 1189.2 888.5 1189.2 890.1 1189.1 893.3 1189.5 885.3 1189.6 883.6 1189.9 878.9 1189.2 876.5 1189.9 876.7 1189.5 871.6 1189.4 874.7 1189.9 867.0 1190.5 866.8 1189.7 862.2 1190.5 861.1 1190.4 856.0 1190.4 854.7 1190.2 857.2 1190.0 844.7 1191.0 847.9 1190.4 847.7 1190.5 844.3 1191.1 843.7 1191.1 837.2 1191.4 835.3 1191.5 830.6 1191.1 831.5 1191.3 829.9 1191.5 828.9 1191.8 824.2 1191.2 822.0 1191.5 820.2 1191.6 821.8 1192.1 827.0 1191.6 826.5 1191.7 831.8 1192.2 833.0 1192.6 834.6 1192.7 838.5 1192.1 842.5 1192.7 846.7 1193.0 845.4 1192.8 848.9 1193.1 845.1 1192.7 858.3 1192.7 858.0 1193.2 854.4 1193.2 860.4 1193.3 862.5 1193.1 868.2 1193.1 872.8 1193.6 870.8 1194.1 871.4 1194.1 870.8 1193.4 883.1 1194.0 883.2 1194.0 883.0 1193.8 884.4 1193.7 882.9 1193.9 876.3 1193.8 871.6 1194.2 875.8 1194.5 867.0 1194.5 863.5 1193.9 862.9 1194.8 859.8 1194.0 860.0 1194.8 855.6 1194.1 853.0 1194.9 850.7 1194.1 853.0 1194.8 846.4 1194.4 842.9 1194.5 842.2 1194.6 845.8 1194.9 836.4 1194.1 835.4 1194.2 831.1 1194.8 829.2 1194.2 832.7 1194.8 826.3 1195.1 822.7 1194.7 820.8 1195.2 816.5 1195.3 816.9 1195.2 812.6 1194.8 812.2 1194.9 809.5 1194.6 804.8 1194.9 807.4 1194.8 801.2 1195.4 798.1 1194.7 791.1 1194.9 792.9 1195.1 791.6 1197.2 788.0 1197.3 791.1 1197.5 792.6 1197.4 797.0 1197.1 795.5 1197.7 800.6 1197.7 802.7 1197.5 809.5 1198.0 808.2 1197.6 808.4 1198.1 806.6 1198.2 821.6 1198.3 819.2 1197.5 821.7 1197.9 822.0 1197.9 824.6 1198.3 829.5 1198.5 826.5 1197.6 833.4 1198.3 835.9 1198.2 838.2 1198.8 842.1 1198.8 844.5 1198.7 844.7 1198.6 851.6 1198.9 852.0 1199.5 855.2 1198.9 857.6 1199.0 857.4 1199.6 861.5 1200.0 857.9 1200.1 851.0 1199.8 854.5 1200.1 851.3 1200.8 850.4 1200.8 846.7 1200.9 842.9 1200.8 841.8 1200.5 843.7 1201.4 841.1 1201.2 854.6 1201.5 852.2 1201.0 852.9 1201.2 856.6 1201.3 858.8 1201.9 859.7 1201.8 862.9 1201.3 861.2 1202.0 866.9 1201.4 872.1 1201.3 869.2 1202.3 871.6 1201.9 874.7 1202.5 881.5 1202.1 883.0 1201.9 882.0 1202.5 884.3 1202.0 873.9 1202.6 873.3 1202.8 871.8 1202.9 867.2 1202.7 868.8 1202.1 863.0 1203.0 862.3 1202.6 856.9 1203.2 856.0 1202.9 852.7 1203.1 850.1 1203.3 849.6 1203.0 848.0 1202.6 844.1 1202.9 842.1 1202.8 839.1 1203.3 840.3 1203.0 834.6 1203.4 837.0 1203.8 829.5 1203.1 830.7 1203.8 829.3 1203.2 820.2 1203.3 819.4 1203.3 816.4 1204.0 813.2 1204.2 811.0 1203.9 809.5 1204.0 807.8 1203.9 800.3 1204.1 802.3 1206.2 804.1 1206.6 807.6 1206.1 809.5 1206.8 810.3 1206.5 815.1 1206.6 814.7 1206.9 819.5 1206.4 825.3 1206.4 830.8 1206.7 830.3 1206.7 833.5 1206.3 831.8 1207.1 836.8 1206.4 829.6 1207.3 832.2 1206.7 841.3 1206.9 842.1 1206.9 839.8 1206.9 849.6 1206.5 849.5 1207.5 854.4 1207.5 855.9 1207.1 850.7 1207.1 856.1 1207.1 859.5 1207.3 865.0 1207.0 862.7 1207.6 862.3 1207.8 857.2 1207.9 856.9 1207.8 851.5 1208.1 851.9 1207.7 846.5 1207.8 845.0 1208.0 843.9 1208.0 839.6 1208.2 842.4 1208.5 838.7 1207.9 832.2 1208.4 832.0 1208.7 828.6 1208.7 826.7 1208.4 826.6 1208.6 817.4 1209.0 820.3 1208.3 816.8 1208.4 817.7 1208.9 811.3 1208.7 809.0 1209.4 814.6 1209.4 817.6 1209.1 819.7 1209.3 824.8 1209.4 830.2 1208.8 829.0 1209.5 834.4 1209.6 831.5 1209.1 834.9 1209.8 836.0 1209.2 843.7 1209.3 849.8 1209.4 843.8 1210.2 845.8 1209.3 849.2 1209.6 852.1 1209.5 853.9 1210.3 851.4 1209.7 860.2 1209.6 855.7 1210.4 864.9 1210.6 864.1 1210.4 867.3 1209.8 870.0 1210.2 869.7 1210.5 874.6 1210.4 880.3 1210.5 880.5 1210.1 882.6 1210.9 886.2 1210.7 888.3 1211.9 884.8 1211.9 878.2 1212.0 883.2 1211.9 872.6 1212.5 877.0 1212.5 867.1 1212.4 868.7 1211.7 866.1 1212.4 863.6 1211.8 863.1 1212.0 861.5 1212.7 850.8 1212.6 856.8 1212.0 852.8 1212.6 849.8 1211.9 846.6 1212.7 847.3 1212.1 843.0 1212.5 839.7 1212.6 843.6 1213.0 842.1 1212.9 830.2 1212.8 825.3 1212.1 828.0 1213.0 826.6 1212.6 823.7 1212.6 820.4 1212.2 817.8 1212.5 811.3 1213.2 812.0 1212.9 810.4 1212.7 813.5 1212.5 806.4 1212.8 802.3 1213.4 802.4 1213.1 799.5 1212.9 795.3 1213.0 797.1 1213.0 791.6 1214.3 789.8 1215.0 792.0 1214.8 799.1 1215.5 798.8 1216.3 791.0 1216.0 791.3 1216.6 789.8 1216.7 792.1 1217.6 793.9 1217.6 798.6 1217.6 801.4 1217.8 802.3 1218.0 804.7 1218.0 811.4 1218.1 814.5 1217.9 813.4 1218.4 816.7 1218.8 813.0 1219.0 812.5 1219.8 809.3 1219.7 805.9 1219.7 808.9 1220.1 810.8 1220.0 813.9 1220.7 815.1 1220.6 817.1 1220.8 820.4 1220.8 827.8 1221.0 825.8 1220.9 829.4 1221.4 831.0 1221.8 829.1 1221.7 824.2 1222.0 824.2 1221.4 815.4 1222.4 817.8 1222.6 811.1 1222.0 812.1 1222.3 809.5 1222.5 812.6 1222.5 813.8 1222.8 811.5 1223.0 825.8 1223.6 821.8 1223.7 824.4 1223.9 824.6 1223.9 830.5 1224.1 832.8 1224.3 830.7 1224.8 826.7 1224.9 820.3 1224.9 821.5 1225.7 818.0 1225.0 817.6 1225.8 819.4 1225.9 811.3 1228.6 811.3 1228.6 812.6 1228.4 815.8 1229.1 812.5 1229.1 820.3 1229.5 825.0 1229.5 825.0 1230.0 832.7 1230.2 837.7 1229.8 838.3 1229.7 836.3 1230.4 838.4 1230.4 841.8 1231.8 848.6 1232.7 846.2 1233.7 844.6 1233.5 838.5 1234.5 838.2 1235.4 842.0 1236.3 843.5 1236.5 840.4 1237.0 840.4 1237.1 835.2 1237.8 831.7 1237.4 828.9 1237.3 826.7 1237.8 825.8 1237.9 823.1 1238.5 820.2 1239.1 816.7 1239.4 814.3 1239.7 813.0 1240.1 808.5 1241.2 807.7 1243.8 805.9 1245.9 802.1 1247.4 800.5 1251.0 797.9 1254.6 797.9 1255.6 799.9 1255.7 803.2 1256.2 806.8 1257.3 807.7 1258.5 800.3 1259.1 802.3 1263.2 804.1 1263.1 806.2 1263.4 815.3 1262.9 812.1 1263.8 813.2 1263.4 820.4 1263.9 819.8 1263.8 820.8 1263.4 820.8 1263.6 825.7 1264.1 823.1 1264.0 826.0 1263.7 832.6 1264.4 837.2 1264.7 838.9 1264.2 842.4 1264.4 843.5 1265.4 852.2 1266.2 848.9 1266.3 854.2 1266.5 850.5 1266.7 858.6 1266.9 859.1 1267.1 861.5 1267.9 858.3 1267.4 854.8 1268.1 860.0 1268.6 850.7 1268.6 854.7 1268.5 852.3 1269.2 860.0 1269.1 861.6 1268.6 864.2 1269.5 866.4 1269.1 868.4 1269.5 871.0 1269.5 875.8 1269.5 875.4 1269.8 879.4 1270.5 880.2 1270.0 883.2 1270.5 891.0 1271.0 888.3 1271.4 894.0 1271.7 894.0 1272.2 896.0 1272.2 901.2 1272.5 902.7 1273.2 906.9 1272.7 904.1 1273.4 908.5 1273.4 914.0 1273.9 915.2 1274.3 919.9 1274.6 904.5 1274.8 911.7 1274.6 909.8 1275.0 901.9 1275.5 900.9 1277.0 904.5 1277.6 902.0 1277.9 910.5 1278.8 911.6 1278.6 910.7 1279.1 907.9 1279.3 905.6 1278.8 907.3 1279.0 898.7 1279.1 896.7 1279.3 895.6 1279.5 891.2 1279.6 889.8 1279.6 889.5 1280.0 883.2 1279.7 883.6 1279.3 879.6 1279.2 882.9 1279.6 876.8 1279.5 873.1 1279.7 868.2 1279.8 872.4 1280.5 864.3 1280.5 860.5 1280.4 861.2 1280.7 858.5 1280.4 853.4 1280.4 850.5 1280.9 849.8 1280.6 847.1 1280.5 848.0 1281.2 853.0 1281.1 854.2 1281.1 856.1 1281.4 859.7 1281.6 856.8 1281.1 865.1 1281.7 865.9 1281.4 870.4 1281.8 874.4 1281.6 873.1 1281.5 876.3 1282.2 884.2 1282.1 883.6 1281.7 884.5 1282.1 887.8 1282.4 886.1 1282.5 893.7 1282.4 893.0 1282.3 897.3 1282.3 900.1 1282.3 891.3 1283.0 883.8 1282.2 889.0 1283.1 885.3 1282.5 881.9 1282.6 878.7 1282.8 876.7 1282.8 873.6 1283.3 874.1 1283.2 871.4 1283.1 872.8 1283.6 864.1 1283.1 866.5 1283.3 860.9 1283.0 857.2 1283.0 852.8 1283.7 853.1 1283.7 851.8 1283.9 844.9 1284.0 845.8 1283.9 842.0 1283.7 839.5 1284.3 837.1 1283.7 834.4 1284.5 832.5 1284.2 831.0 1285.0 827.4 1286.5 825.6 1286.5 826.3 1286.8 828.9 1286.4 832.7 1286.6 839.3 1287.2 837.5 1287.2 840.4 1287.6 837.5 1287.0 844.2 1287.2 847.0 1287.9 851.3 1287.7 852.5 1288.6 855.8 1289.3 856.5 1289.5 859.7 1289.4 858.8 1290.0 856.7 1289.8 851.6 1289.9 851.1 1289.8 848.9 1290.3 844.1 1290.6 843.3 1291.0 840.2 1290.4 839.4 1290.8 833.9 1290.5 834.7 1291.2 831.1 1291.0 828.7 1291.3 825.6 1293.6 823.8 1294.6 822.8 1295.8 829.2 1296.9 834.1 1297.5 832.5 1298.5 836.4 1299.5 838.6 1300.3 831.0 1303.0 831.0 1304.8 831.0 1305.3 827.7 1306.5 836.8 1307.5 838.4 1308.3 840.0 1311.0 841.8 1312.4 844.1 1312.8 849.1 1313.7 850.7 1313.8 856.3 1314.4 855.5 1313.6 857.7 1314.4 854.7 1314.4 864.2 1314.5 866.9 1314.6 867.9 1314.8 870.5 1315.2 872.4 1314.6 876.7 1315.3 877.2 1314.9 881.9 1315.7 886.2 1315.0 886.2 1315.2 887.6 1315.5 891.6 1315.3 892.6 1315.5 896.7 1316.4 900.9 1315.6 902.5 1316.4 904.6 1316.7 905.4 1316.4 908.0 1316.2 906.7 1316.8 901.3 1316.8 898.7 1316.5 899.3 1316.4 897.0 1316.5 894.7 1316.5 892.1 1317.3 888.4 1317.2 881.0 1317.3 880.4 1317.1 881.6 1317.1 878.3 1316.8 876.3 1317.4 874.6 1317.3 870.4 1318.0 866.4 1318.4 864.2 1319.1 863.2 1319.1 864.7 1318.8 868.8 1319.3 871.6 1319.2 873.8 1319.5 880.7 1320.0 876.8 1320.3 882.1 1320.2 882.5 1319.8 885.9 1320.5 892.6 1320.2 891.6 1320.2 893.4 1320.5 893.9 1320.2 898.4 1320.4 899.0 1321.0 903.1 1320.9 904.0 1320.9 908.0 1322.7 906.2 1322.6 903.5 1322.5 906.6 1322.7 897.6 1323.3 897.2 1323.0 894.8 1324.0 889.6 1323.4 893.9 1323.4 887.4 1324.4 882.8 1323.7 879.1 1324.3 879.2 1324.5 875.8 1324.6 873.3 1324.3 882.1 1324.8 878.4 1324.8 887.2 1325.3 892.0 1325.3 887.2 1325.3 894.9 1325.4 896.8 1325.3 893.0 1325.7 899.6 1325.8 904.2 1325.9 907.8 1325.8 904.3 1326.2 911.6 1328.9 913.4 1329.1 916.0 1328.7 907.4 1328.9 907.4 1329.8 903.4 1329.8 900.2 1330.0 891.5 1329.7 894.9 1329.4 888.9 1330.3 886.0 1329.7 892.4 1329.8 880.6 1330.3 883.1 1330.7 879.8 1330.1 879.1 1330.7 875.7 1330.5 873.2 1330.7 870.4 1331.3 867.7 1332.0 865.6 1332.0 867.2 1332.3 862.1 1333.3 859.6 1333.4 856.1 1335.1 863.3 1336.1 861.5 1338.4 859.7 1338.4 868.5 1339.1 866.1 1339.4 864.4 1339.4 874.8 1339.3 873.1 1339.7 875.8 1340.2 872.7 1340.8 870.0 1341.1 868.5 1340.9 864.9 1341.5 863.2 1341.7 860.8 1342.5 868.7 1342.3 869.6 1343.5 877.7 1343.5 877.5 1343.5 876.9 1344.2 881.2 1345.0 878.7 1345.0 880.4 1346.0 874.0 1347.5 873.0 1348.7 868.6 1351.3 870.4 1352.3 872.7 1352.9 874.0 1353.7 878.8 1354.0 881.2 1354.7 888.0 1356.1 885.6 1356.3 890.9 1357.6 891.9 1358.2 894.6 1358.0 896.1 1357.6 896.4 1358.7 902.6 1358.8 904.4 1358.6 907.5 1358.3 912.2 1358.9 911.6 1358.8 910.8 1360.1 907.9 1360.2 905.1 1360.9 897.5 1360.8 898.2 1361.2 895.5 1361.4 896.6 1361.2 901.8 1361.5 902.1 1361.9 906.6 1362.0 910.1 1362.4 913.3 1362.4 912.7 1363.0 917.0 1364.7 921.1 1365.7 922.4 1365.5 918.6 1366.2 911.7 1366.3 916.4 1367.2 911.0 1367.6 909.4 1367.5 908.0 1368.0 904.3 1369.4 918.8 1370.2 917.0 1370.9 911.4 1370.4 906.8 1371.4 911.5 1371.0 906.9 1371.7 903.5 1372.0 906.1 1372.2 901.6 1372.9 900.2 1373.1 895.9 1372.7 893.6 1373.8 896.7 1373.7 888.3 1373.8 884.8 1374.4 877.3 1375.1 883.1 1375.4 875.5 1375.1 876.4 1375.5 874.0 1376.0 871.4 1376.3 869.4 1376.1 862.0 1376.9 864.5 1377.3 861.5 1379.1 861.5 1379.0 858.0 1379.4 863.7 1379.4 869.8 1379.4 871.1 1379.6 872.6 1379.7 876.9 1380.0 879.7 1380.6 874.6 1379.9 885.8 1380.1 885.4 1380.2 890.2 1380.4 893.1 1381.1 892.6 1380.3 900.6 1380.9 899.1 1382.7 897.3 1383.5 894.6 1383.9 893.3 1383.6 890.7 1384.5 886.5 1384.8 885.6 1384.8 876.9 1384.9 878.6 1384.6 875.7 1384.6 873.5 1385.5 870.4 1385.2 874.9 1385.0 867.3 1385.2 864.5 1385.4 859.6 1385.5 857.6 1385.3 861.5 1385.5 857.9 1385.7 846.9 1386.3 848.1 1386.4 847.5 1386.3 843.5 1386.5 841.2 1386.5 843.5 1387.1 836.4 1386.3 834.7 1386.8 831.4 1386.9 827.3 1387.0 824.2 1386.6 822.6 1387.4 819.5 1387.2 821.7 1387.9 818.3 1387.3 814.5 1388.0 808.9 1388.0 808.9 1388.2 805.8 1388.3 803.1 1388.1 800.5 1389.8 802.3 1390.2 805.1 1391.3 807.6 1391.7 809.5 1392.2 813.4 1392.4 803.5 1393.4 800.5 1394.3 802.5 1394.6 808.3 1395.2 809.5 1395.2 811.9 1395.1 809.3 1396.0 816.2 1395.4 818.3 1396.1 820.3 1395.7 824.1 1395.8 827.2 1395.8 823.6 1395.6 828.0 1396.0 839.1 1396.3 835.6 1396.2 843.9 1396.5 843.1 1397.0 845.8 1396.6 848.3 1396.6 851.3 1396.9 851.2 1396.5 852.9 1397.3 858.3 1397.0 859.7 1397.4 862.2 1397.4 868.6 1397.5 866.4 1398.0 868.8 1398.3 871.7 1397.9 871.7 1398.4 876.3 1398.2 879.9 1398.8 881.0 1398.8 884.8 1398.9 886.2 1399.4 883.7 1399.5 874.0 1399.4 870.4 1399.4 873.3 1399.6 870.0 1399.5 874.4 1399.7 866.3 1399.6 861.9 1399.2 859.1 1399.7 857.8 1400.3 856.7 1400.4 850.8 1400.0 851.6 1400.5 851.1 1400.3 844.9 1400.7 842.6 1400.3 840.7 1400.7 836.8 1400.1 830.6 1400.5 835.1 1400.6 831.0 1400.8 828.2 1400.9 824.4 1402.0 824.2 1401.4 817.9 1402.5 819.9 1402.4 816.7 1405.1 820.2 1406.4 823.8 1406.9 823.7 1407.4 828.1 1408.7 829.2 1409.0 831.0 1409.6 839.7 1410.0 835.8 1410.9 835.3 1411.4 841.8 1412.4 843.1 1414.5 845.9 1415.4 848.9 1415.5 851.2 1416.2 852.8 1417.4 855.8 1418.2 858.1 1418.0 859.2 1419.0 863.2 1420.0 860.0 1420.4 857.7 1420.8 856.1 1421.1 866.2 1422.0 862.9 1422.5 865.0 1422.8 861.9 1423.0 861.2 1423.2 859.3 1423.3 850.6 1423.8 855.5 1424.3 850.7 1424.6 854.3 1425.3 856.0 1425.5 856.8 1425.6 860.7 1425.2 863.3 1426.0 867.6 1426.1 868.6 1426.7 866.8 1426.0 863.5 1426.4 861.2 1427.0 852.5 1427.4 855.5 1427.0 854.4 1426.8 850.3 1427.2 851.8 1427.5 843.4 1427.7 844.1 1427.9 840.0 1429.7 836.4 1431.5 834.6 1432.6 843.9 1432.5 838.7 1433.3 841.8 1433.7 838.5 1433.4 840.6 1432.9 848.2 1433.1 851.9 1433.4 855.3 1433.3 854.5 1433.6 859.3 1433.4 860.6 1433.3 864.7 1433.6 859.5 1434.2 874.4 1434.0 872.0 1434.0 875.8 1433.8 873.1 1433.8 876.2 1434.3 880.5 1434.0 881.1 1434.4 881.4 1433.9 888.3 1433.7 894.4 1434.0 891.8 1433.8 895.8 1434.2 897.3 1434.1 900.7 1434.8 902.4 1434.6 899.6 1434.8 903.5 1435.1 909.1 1435.3 911.7 1434.9 916.2 1435.4 917.0 1435.1 915.6 1435.4 905.4 1436.1 910.9 1435.8 906.5 1436.3 904.0 1435.7 900.1 1436.1 899.6 1435.9 896.2 1435.8 894.6 1436.4 893.1 1436.5 890.0 1436.2 887.9 1436.9 885.8 1436.4 883.3 1437.1 877.5 1437.1 878.0 1436.9 874.0 1438.3 872.2 1438.8 876.3 1438.5 876.0 1438.1 884.1 1438.9 883.3 1438.4 885.4 1438.6 885.4 1438.8 888.6 1438.5 892.4 1438.5 893.1 1438.8 897.3 1438.8 898.8 1438.7 903.0 1439.3 905.2 1438.6 907.5 1438.6 909.9 1439.5 911.3 1439.0 916.0 1439.2 917.0 1439.1 917.9 1439.2 920.3 1438.9 924.3 1439.3 926.5 1439.5 930.5 1439.6 931.7 1439.0 939.8 1439.5 932.8 1439.6 938.5 1439.6 941.8 1439.6 949.8 1440.6 947.3 1440.8 954.5 1440.8 952.8 1440.9 950.6 1440.9 948.0 1441.1 951.9 1440.6 943.1 1440.9 941.6 1440.5 936.7 1441.3 939.7 1441.1 933.6 1441.5 934.6 1440.9 928.2 1441.2 923.7 1441.3 925.2 1441.5 923.1 1441.3 917.5 1441.5 917.2 1440.9 915.1 1441.3 906.5 1441.2 910.9 1441.2 904.0 1441.9 905.1 1441.6 903.8 1441.8 903.6 1442.0 898.0 1441.2 895.8 1442.1 893.0 1442.2 891.1 1442.0 884.5 1441.4 885.3 1442.0 884.1 1442.3 881.3 1441.5 879.5 1441.9 875.8 1441.9 879.7 1441.7 880.8 1442.5 883.7 1442.2 890.1 1442.0 889.0 1442.3 886.7 1442.7 892.2 1442.5 896.6 1441.9 903.4 1442.0 898.8 1442.6 903.0 1442.6 904.2 1442.6 909.2 1442.4 910.6 1443.0 917.6 1443.1 914.0 1443.1 919.4 1442.7 918.0 1442.8 922.4 1443.1 918.8 1443.1 928.2 1443.4 926.6 1443.2 933.1 1443.2 932.2 1443.6 926.4 1443.3 927.2 1442.9 930.4 1443.6 922.3 1443.1 918.2 1443.2 919.5 1443.5 913.2 1443.9 909.6 1443.9 908.3 1443.5 906.8 1443.6 904.4 1443.4 902.5 1444.0 897.4 1444.3 896.4 1443.4 894.6 1444.1 891.2 1443.5 888.0 1444.3 881.1 1444.1 883.4 1443.9 885.3 1444.3 879.7 1444.0 875.2 1444.0 874.3 1444.0 870.8 1444.4 868.6 1444.1 869.7 1444.6 873.6 1444.0 876.5 1444.8 876.9 1444.4 880.0 1445.0 884.1 1444.7 885.4 1444.2 886.8 1444.3 890.7 1444.8 897.3 1444.4 896.6 1444.6 893.8 1444.6 902.2 1445.0 901.8 1445.0 903.6 1444.9 909.2 1445.2 905.7 1444.9 912.8 1444.8 914.2 1445.3 916.7 1445.5 919.8 1445.4 921.2 1444.8 925.2 1445.6 928.4 1445.1 928.1 1445.0 930.5 1445.1 938.1 1445.3 937.7 1445.0 940.5 1445.5 942.1 1445.8 936.2 1445.5 937.6 1445.8 935.3 1445.8 931.2 1446.1 931.4 1445.5 931.8 1445.9 926.2 1445.9 923.6 1446.3 918.9 1446.4 910.4 1446.4 911.6 1446.0 916.0 1446.2 915.5 1447.1 907.7 1446.8 903.5 1446.7 902.7 1446.5 898.7 1446.7 896.7 1447.2 896.3 1447.1 892.2 1447.0 890.8 1447.3 884.4 1447.2 882.5 1447.3 883.5 1447.6 881.5 1447.2 871.0 1447.8 873.5 1447.4 868.2 1448.0 870.1 1447.4 867.1 1448.1 869.5 1447.6 864.0 1448.1 861.8 1447.5 856.4 1447.4 853.6 1448.0 852.5 1448.5 853.1 1448.5 848.9 1448.4 842.9 1449.1 841.8 1449.4 842.9 1449.6 845.1 1449.7 854.6 1449.3 849.0 1449.1 855.3 1449.4 852.1 1449.0 860.3 1449.0 861.8 1450.0 864.9 1449.1 866.9 1449.6 868.4 1450.0 872.2 1449.6 872.3 1449.8 875.7 1450.1 878.1 1450.2 879.8 1449.7 884.3 1449.6 883.3 1449.8 886.8 1450.0 889.2 1449.9 888.9 1450.1 893.5 1450.3 897.3 1450.3 895.6 1450.8 894.1 1450.4 890.7 1450.6 888.0 1450.4 884.5 1450.7 884.1 1451.1 874.2 1450.9 877.3 1451.1 873.3 1450.6 873.4 1451.1 865.6 1451.2 868.7 1450.9 864.6 1451.8 865.1 1450.9 861.9 1451.4 852.1 1451.6 856.1 1451.3 859.5 1451.9 858.2 1452.0 862.4 1451.9 869.3 1451.8 868.6 1451.7 870.9 1451.9 872.3 1452.5 875.6 1452.1 873.0 1452.7 880.8 1452.7 883.8 1452.9 885.2 1452.6 888.1 1453.0 889.2 1452.9 897.9 1453.0 895.5 1452.7 896.1 1453.6 890.2 1453.2 888.6 1452.9 885.6 1453.9 884.7 1453.3 880.6 1453.6 877.3 1454.0 875.8 1453.9 874.6 1453.9 875.8 1453.8 869.3 1454.2 870.9 1454.7 863.2 1453.8 862.8 1454.4 855.2 1454.4 856.1 1454.9 854.0 1454.8 849.1 1455.0 846.7 1455.4 847.5 1456.4 843.8 1456.2 841.8 1456.5 839.9 1457.0 835.5 1457.4 826.5 1457.5 831.0 1457.7 834.2 1458.4 834.8 1459.3 838.2 1461.1 834.6 1462.9 831.7 1463.8 829.2 1467.0 826.5 1467.0 824.7 1467.4 821.7 1468.4 812.6 1468.2 816.7 1468.8 815.2 1469.0 810.8 1469.7 807.1 1470.0 805.9 1472.7 802.3 1473.7 802.4 1474.2 806.0 1474.5 809.5 1476.7 813.1 1477.1 808.4 1478.0 808.9 1478.1 804.1 1480.2 805.9 1480.1 803.5 1480.5 800.5 1480.5 802.0 1481.4 792.2 1481.3 791.6 1483.5 788.0 1485.2 786.2 1487.9 789.8 1492.4 789.8 1494.5 791.9 1496.0 795.2 1497.1 795.9 1498.4 793.7 1499.5 802.7 1500.5 804.1 1500.9 804.9 1502.7 808.9 1503.7 805.7 1504.3 815.6 1505.0 816.7 1505.5 821.0 1507.0 822.9 1507.4 824.5 1508.5 827.4 1509.1 831.1 1510.7 830.5 1511.0 834.2 1512.1 836.4 1514.4 835.5 1515.7 832.8 1517.0 831.1 1518.2 826.3 1519.3 825.6 1521.1 824.8 1522.9 822.0 1523.6 823.5 1523.8 827.7 1524.2 828.7 1524.2 831.9 1524.1 835.5 1524.7 830.8 1524.7 837.0 1525.4 841.3 1525.6 845.3 1528.2 847.1 1529.1 849.6 1530.2 853.3 1531.8 854.3 1533.2 860.7 1534.0 858.7 1535.5 859.5 1536.3 863.2 1537.0 862.3 1537.4 856.7 1537.1 861.5 1538.2 849.6 1538.0 848.9 1538.5 847.6 1539.0 845.3 1539.7 847.8 1540.0 835.0 1540.4 839.1 1540.8 836.8 1541.6 830.8 1541.7 829.2 1541.7 827.0 1542.6 824.0 1542.8 820.8 1542.8 815.1 1542.6 820.4 1542.8 813.4 1543.6 813.5 1543.3 808.3 1544.2 804.9 1544.0 806.1 1544.4 802.3 1544.9 799.7 1544.5 795.9 1545.6 794.2 1545.9 788.3 1545.4 796.3 1546.4 787.7 1546.6 792.7 1546.4 782.9 1547.1 780.8 1547.6 785.5 1548.3 772.8 1548.7 774.3 1548.7 770.3 1549.0 770.6 1549.8 764.7 1552.4 768.3 1553.5 772.7 1553.7 768.8 1554.7 778.1 1555.1 779.0 1557.8 782.6 1561.4 780.8 1562.1 787.9 1562.5 786.9 1562.9 786.8 1562.9 792.0 1563.5 792.3 1564.1 795.2 1565.1 791.7 1565.1 789.3 1565.9 786.2 1566.9 778.7 1568.0 783.1 1568.6 779.0 1571.2 782.6 1572.1 784.6 1573.4 787.7 1574.8 789.8 1575.6 795.1 1576.1 795.7 1577.5 797.0 1581.1 798.8 1582.0 800.9 1583.1 804.0 1584.1 806.6 1584.7 809.5 1586.0 810.7 1586.7 812.5 1587.4 816.7 1588.1 814.9 1589.4 816.9 1590.9 824.7 1591.8 825.6 1591.7 829.3 1592.4 830.9 1592.3 832.6 1592.9 836.7 1592.5 836.1 1593.0 837.3 1593.5 842.7 1593.7 845.3 1596.3 841.8 1599.0 843.5 1602.6 842.6 1603.5 847.1 1604.7 851.8 1605.3 850.7 1608.0 854.3 1610.7 852.5 1613.3 848.9 1616.9 850.7 1619.6 854.3 1620.5 857.7 1621.9 847.8 1622.3 845.3 1623.0 853.1 1623.7 850.6 1623.4 855.0 1624.1 856.1 1624.8 858.9 1626.3 860.3 1626.8 863.2 1627.8 873.3 1628.7 869.8 1629.5 872.2 1630.8 874.4 1631.3 877.6 1631.8 876.7 1632.7 872.4 1633.2 870.9 1634.0 866.8 1636.7 870.4 1637.1 873.1 1636.9 869.7 1636.9 863.0 1637.2 859.7 1638.2 850.8 1638.2 854.2 1638.6 854.8 1638.4 848.9 1638.5 846.7 1638.7 844.1 1638.6 841.1 1638.7 837.7 1638.4 837.3 1639.0 836.6 1639.3 831.4 1638.9 827.2 1639.2 825.7 1639.2 824.4 1638.9 821.1 1639.6 819.1 1639.0 814.8 1639.6 812.4 1638.9 814.6 1639.6 810.7 1639.5 808.0 1639.3 803.2 1639.6 803.3 1639.4 798.7 1639.9 795.4 1640.1 793.2 1639.7 791.6 1641.5 793.4 1641.8 794.1 1641.2 797.1 1641.8 804.8 1641.8 810.2 1642.3 804.6 1642.6 809.9 1642.8 805.5 1642.6 812.0 1642.3 821.8 1643.0 812.0 1643.1 825.5 1642.9 823.8 1642.8 826.8 1643.6 823.6 1643.6 831.5 1643.0 834.2 1643.1 834.4 1643.6 840.2 1643.8 840.5 1643.8 843.5 1644.2 842.8 1644.7 838.7 1644.1 835.9 1644.6 833.3 1645.0 832.8 1644.7 827.0 1645.4 826.2 1645.6 823.8" stroke="#0000ff" stroke-width="3.2" fill="none" stroke-linejoin="round" stroke-linecap="butt"/>
<rect x="1095.5" y="120" width="704.5" height="436.4" fill="none" stroke="#000" stroke-width="2.78"/>
<rect x="250" y="643.6" width="704.5" height="436.4" fill="none" stroke="#000" stroke-width="2.78"/>
<rect x="1095.5" y="643.6" width="704.5" height="436.4" fill="none" stroke="#000" stroke-width="2.78"/>
<g transform="translate(603 1156.2)"><text transform="translate(-98.38 0) scale(1.010 1)">T</text><text transform="translate(-76.24 0) scale(0.947 1)">i</text><text transform="translate(-67.33 0) scale(1.055 1)">m</text><text transform="translate(-35.06 0) scale(1.000 1)">e</text><text transform="translate(-3.88 0) scale(0.965 1)">[</text><text transform="translate(9.06 0) scale(1.006 1)">d</text><text transform="translate(30.63 0) scale(0.833 1)">a</text><text transform="translate(51.23 0) scale(0.994 1)">y</text><text transform="translate(70.97 0) scale(0.888 1)">s</text><text transform="translate(90.39 0) scale(0.965 1)">]</text></g>
<g transform="translate(1449 1156.2)"><text transform="translate(-98.38 0) scale(1.010 1)">T</text><text transform="translate(-76.24 0) scale(0.947 1)">i</text><text transform="translate(-67.33 0) scale(1.055 1)">m</text><text transform="translate(-35.06 0) scale(1.000 1)">e</text><text transform="translate(-3.88 0) scale(0.965 1)">[</text><text transform="translate(9.06 0) scale(1.006 1)">d</text><text transform="translate(30.63 0) scale(0.833 1)">a</text><text transform="translate(51.23 0) scale(0.994 1)">y</text><text transform="translate(70.97 0) scale(0.888 1)">s</text><text transform="translate(90.39 0) scale(0.965 1)">]</text></g>
<g transform="translate(154 336.5) rotate(-90)"><text transform="translate(-85.06 0) scale(0.958 1)">D</text><text transform="translate(-59.53 0) scale(1.000 1)">e</text><text transform="translate(-38.64 0) scale(1.007 1)">p</text><text transform="translate(-17.95 0) scale(1.238 1)">t</text><text transform="translate(-4.58 0) scale(1.005 1)">h</text><text transform="translate(27.01 0) scale(0.965 1)">[</text><text transform="translate(40.13 0) scale(1.055 1)">m</text><text transform="translate(75.06 0) scale(0.965 1)">]</text></g>
<text transform="translate(425.46 106.45) scale(1.267 1)" style="font-family:'Liberation Serif',serif;font-size:35.40px;font-style:italic">σ</text>
<text transform="translate(448.47 116.12) scale(1.045 1)" style="font-family:'Liberation Serif',serif;font-size:28.45px">0</text>
<path d="M485.00 75.60H493.40V78.40H489.00V108.80H493.40V111.60H485.00Z" fill="#000"/>
<text transform="translate(497.59 106.20) scale(1.031 1)" style="font-family:'Liberation Serif',serif;font-size:40.64px;font-style:italic">k</text>
<text transform="translate(518.58 105.97) scale(1.048 1)" style="font-family:'Liberation Serif',serif;font-size:37.74px;font-style:italic">g</text>
<text transform="translate(539.00 115.22) scale(0.985 1)" style="font-family:'Liberation Serif',serif;font-size:59.20px">/</text>
<text transform="translate(556.35 106.20) scale(1.341 1)" style="font-family:'Liberation Serif',serif;font-size:38.20px;font-style:italic">m</text>
<text transform="translate(591.61 89.13) scale(1.049 1)" style="font-family:'Liberation Serif',serif;font-size:27.68px">3</text>
<path d="M631.40 75.60H622.40V78.40H627.40V108.80H622.40V111.60H631.40Z" fill="#000"/>
<text transform="translate(1341.41 106.45) scale(1.267 1)" style="font-family:'Liberation Serif',serif;font-size:35.40px;font-style:italic">σ</text>
<text transform="translate(1364.42 116.12) scale(1.045 1)" style="font-family:'Liberation Serif',serif;font-size:28.45px">0</text>
<path d="M1400.95 75.60H1409.35V78.40H1404.95V108.80H1409.35V111.60H1400.95Z" fill="#000"/>
<text transform="translate(1413.54 106.20) scale(1.031 1)" style="font-family:'Liberation Serif',serif;font-size:40.64px;font-style:italic">k</text>
<text transform="translate(1434.53 105.97) scale(1.048 1)" style="font-family:'Liberation Serif',serif;font-size:37.74px;font-style:italic">g</text>
<text transform="translate(1454.95 115.22) scale(0.985 1)" style="font-family:'Liberation Serif',serif;font-size:59.20px">/</text>
<text transform="translate(1472.30 106.20) scale(1.341 1)" style="font-family:'Liberation Serif',serif;font-size:38.20px;font-style:italic">m</text>
<text transform="translate(1507.56 89.13) scale(1.049 1)" style="font-family:'Liberation Serif',serif;font-size:27.68px">3</text>
<path d="M1547.35 75.60H1538.35V78.40H1543.35V108.80H1538.35V111.60H1547.35Z" fill="#000"/>
<text transform="translate(495.91 630.05) scale(1.267 1)" style="font-family:'Liberation Serif',serif;font-size:35.40px;font-style:italic">σ</text>
<text transform="translate(518.92 639.72) scale(1.045 1)" style="font-family:'Liberation Serif',serif;font-size:28.45px">0</text>
<path d="M555.45 599.20H563.85V602.00H559.45V632.40H563.85V635.20H555.45Z" fill="#000"/>
<text transform="translate(568.04 629.80) scale(1.031 1)" style="font-family:'Liberation Serif',serif;font-size:40.64px;font-style:italic">k</text>
<text transform="translate(589.03 629.57) scale(1.048 1)" style="font-family:'Liberation Serif',serif;font-size:37.74px;font-style:italic">g</text>
<text transform="translate(609.45 638.82) scale(0.985 1)" style="font-family:'Liberation Serif',serif;font-size:59.20px">/</text>
<text transform="translate(626.80 629.80) scale(1.341 1)" style="font-family:'Liberation Serif',serif;font-size:38.20px;font-style:italic">m</text>
<text transform="translate(662.06 612.73) scale(1.049 1)" style="font-family:'Liberation Serif',serif;font-size:27.68px">3</text>
<path d="M701.85 599.20H692.85V602.00H697.85V632.40H692.85V635.20H701.85Z" fill="#000"/>
<text transform="translate(1341.41 630.05) scale(1.267 1)" style="font-family:'Liberation Serif',serif;font-size:35.40px;font-style:italic">σ</text>
<text transform="translate(1364.42 639.72) scale(1.045 1)" style="font-family:'Liberation Serif',serif;font-size:28.45px">0</text>
<path d="M1400.95 599.20H1409.35V602.00H1404.95V632.40H1409.35V635.20H1400.95Z" fill="#000"/>
<text transform="translate(1413.54 629.80) scale(1.031 1)" style="font-family:'Liberation Serif',serif;font-size:40.64px;font-style:italic">k</text>
<text transform="translate(1434.53 629.57) scale(1.048 1)" style="font-family:'Liberation Serif',serif;font-size:37.74px;font-style:italic">g</text>
<text transform="translate(1454.95 638.82) scale(0.985 1)" style="font-family:'Liberation Serif',serif;font-size:59.20px">/</text>
<text transform="translate(1472.30 629.80) scale(1.341 1)" style="font-family:'Liberation Serif',serif;font-size:38.20px;font-style:italic">m</text>
<text transform="translate(1507.56 612.73) scale(1.049 1)" style="font-family:'Liberation Serif',serif;font-size:27.68px">3</text>
<path d="M1547.35 599.20H1538.35V602.00H1543.35V632.40H1538.35V635.20H1547.35Z" fill="#000"/>
</svg></body></html>
